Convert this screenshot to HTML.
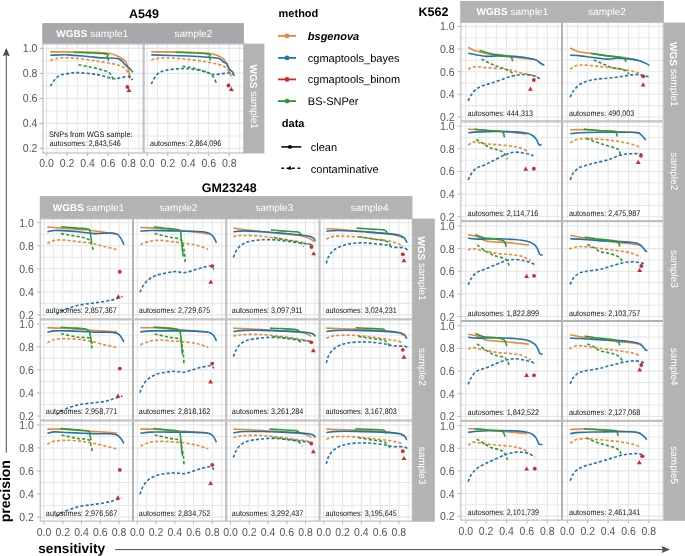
<!DOCTYPE html><html><head><meta charset="utf-8"><style>html,body{margin:0;padding:0;background:#fff;overflow:hidden}svg{display:block;will-change:transform}</style></head><body><svg width="685" height="556" viewBox="0 0 685 556" font-family='"Liberation Sans", sans-serif' text-rendering="geometricPrecision">
<rect width="685" height="556" fill="#fff"/>
<text x="144.0" y="14.4" font-size="12.5" font-weight="bold" text-anchor="middle" dominant-baseline="central" fill="#000">A549</text>
<rect x="42.40" y="43.50" width="101.20" height="110.00" fill="#fff"/>
<line x1="56.85" y1="43.50" x2="56.85" y2="153.50" stroke="#e8e8e8" stroke-width="1.05"/>
<line x1="77.35" y1="43.50" x2="77.35" y2="153.50" stroke="#e8e8e8" stroke-width="1.05"/>
<line x1="97.85" y1="43.50" x2="97.85" y2="153.50" stroke="#e8e8e8" stroke-width="1.05"/>
<line x1="118.35" y1="43.50" x2="118.35" y2="153.50" stroke="#e8e8e8" stroke-width="1.05"/>
<line x1="138.85" y1="43.50" x2="138.85" y2="153.50" stroke="#e8e8e8" stroke-width="1.05"/>
<line x1="42.40" y1="135.90" x2="143.60" y2="135.90" stroke="#e8e8e8" stroke-width="1.05"/>
<line x1="42.40" y1="110.90" x2="143.60" y2="110.90" stroke="#e8e8e8" stroke-width="1.05"/>
<line x1="42.40" y1="85.90" x2="143.60" y2="85.90" stroke="#e8e8e8" stroke-width="1.05"/>
<line x1="42.40" y1="60.90" x2="143.60" y2="60.90" stroke="#e8e8e8" stroke-width="1.05"/>
<line x1="46.60" y1="43.50" x2="46.60" y2="153.50" stroke="#e5e5e5" stroke-width="1.1"/>
<line x1="67.10" y1="43.50" x2="67.10" y2="153.50" stroke="#e5e5e5" stroke-width="1.1"/>
<line x1="87.60" y1="43.50" x2="87.60" y2="153.50" stroke="#e5e5e5" stroke-width="1.1"/>
<line x1="108.10" y1="43.50" x2="108.10" y2="153.50" stroke="#e5e5e5" stroke-width="1.1"/>
<line x1="128.60" y1="43.50" x2="128.60" y2="153.50" stroke="#e5e5e5" stroke-width="1.1"/>
<line x1="42.40" y1="148.40" x2="143.60" y2="148.40" stroke="#e5e5e5" stroke-width="1.1"/>
<line x1="42.40" y1="123.40" x2="143.60" y2="123.40" stroke="#e5e5e5" stroke-width="1.1"/>
<line x1="42.40" y1="98.40" x2="143.60" y2="98.40" stroke="#e5e5e5" stroke-width="1.1"/>
<line x1="42.40" y1="73.40" x2="143.60" y2="73.40" stroke="#e5e5e5" stroke-width="1.1"/>
<line x1="42.40" y1="48.40" x2="143.60" y2="48.40" stroke="#e5e5e5" stroke-width="1.1"/>
<rect x="143.60" y="43.50" width="101.20" height="110.00" fill="#fff"/>
<line x1="157.45" y1="43.50" x2="157.45" y2="153.50" stroke="#e8e8e8" stroke-width="1.05"/>
<line x1="177.95" y1="43.50" x2="177.95" y2="153.50" stroke="#e8e8e8" stroke-width="1.05"/>
<line x1="198.45" y1="43.50" x2="198.45" y2="153.50" stroke="#e8e8e8" stroke-width="1.05"/>
<line x1="218.95" y1="43.50" x2="218.95" y2="153.50" stroke="#e8e8e8" stroke-width="1.05"/>
<line x1="239.45" y1="43.50" x2="239.45" y2="153.50" stroke="#e8e8e8" stroke-width="1.05"/>
<line x1="143.60" y1="135.90" x2="244.80" y2="135.90" stroke="#e8e8e8" stroke-width="1.05"/>
<line x1="143.60" y1="110.90" x2="244.80" y2="110.90" stroke="#e8e8e8" stroke-width="1.05"/>
<line x1="143.60" y1="85.90" x2="244.80" y2="85.90" stroke="#e8e8e8" stroke-width="1.05"/>
<line x1="143.60" y1="60.90" x2="244.80" y2="60.90" stroke="#e8e8e8" stroke-width="1.05"/>
<line x1="147.20" y1="43.50" x2="147.20" y2="153.50" stroke="#e5e5e5" stroke-width="1.1"/>
<line x1="167.70" y1="43.50" x2="167.70" y2="153.50" stroke="#e5e5e5" stroke-width="1.1"/>
<line x1="188.20" y1="43.50" x2="188.20" y2="153.50" stroke="#e5e5e5" stroke-width="1.1"/>
<line x1="208.70" y1="43.50" x2="208.70" y2="153.50" stroke="#e5e5e5" stroke-width="1.1"/>
<line x1="229.20" y1="43.50" x2="229.20" y2="153.50" stroke="#e5e5e5" stroke-width="1.1"/>
<line x1="143.60" y1="148.40" x2="244.80" y2="148.40" stroke="#e5e5e5" stroke-width="1.1"/>
<line x1="143.60" y1="123.40" x2="244.80" y2="123.40" stroke="#e5e5e5" stroke-width="1.1"/>
<line x1="143.60" y1="98.40" x2="244.80" y2="98.40" stroke="#e5e5e5" stroke-width="1.1"/>
<line x1="143.60" y1="73.40" x2="244.80" y2="73.40" stroke="#e5e5e5" stroke-width="1.1"/>
<line x1="143.60" y1="48.40" x2="244.80" y2="48.40" stroke="#e5e5e5" stroke-width="1.1"/>
<rect x="42.90" y="44.00" width="100.20" height="109.00" fill="none" stroke="#b3b3b3" stroke-width="1"/>
<rect x="144.10" y="44.00" width="100.20" height="109.00" fill="none" stroke="#b3b3b3" stroke-width="1"/>
<line x1="39.70" y1="148.40" x2="42.40" y2="148.40" stroke="#b3b3b3" stroke-width="1"/>
<text transform="translate(37.40,148.90) scale(0.905,1)" font-size="11.6" fill="#555555" text-anchor="end" dominant-baseline="central">0.2</text>
<line x1="39.70" y1="123.40" x2="42.40" y2="123.40" stroke="#b3b3b3" stroke-width="1"/>
<text transform="translate(37.40,123.90) scale(0.905,1)" font-size="11.6" fill="#555555" text-anchor="end" dominant-baseline="central">0.4</text>
<line x1="39.70" y1="98.40" x2="42.40" y2="98.40" stroke="#b3b3b3" stroke-width="1"/>
<text transform="translate(37.40,98.90) scale(0.905,1)" font-size="11.6" fill="#555555" text-anchor="end" dominant-baseline="central">0.6</text>
<line x1="39.70" y1="73.40" x2="42.40" y2="73.40" stroke="#b3b3b3" stroke-width="1"/>
<text transform="translate(37.40,73.90) scale(0.905,1)" font-size="11.6" fill="#555555" text-anchor="end" dominant-baseline="central">0.8</text>
<line x1="39.70" y1="48.40" x2="42.40" y2="48.40" stroke="#b3b3b3" stroke-width="1"/>
<text transform="translate(37.40,48.90) scale(0.905,1)" font-size="11.6" fill="#555555" text-anchor="end" dominant-baseline="central">1.0</text>
<line x1="46.60" y1="153.50" x2="46.60" y2="156.20" stroke="#b3b3b3" stroke-width="1"/>
<text transform="translate(46.60,163.00) scale(0.905,1)" font-size="11.6" fill="#555555" text-anchor="middle" dominant-baseline="central">0.0</text>
<line x1="67.10" y1="153.50" x2="67.10" y2="156.20" stroke="#b3b3b3" stroke-width="1"/>
<text transform="translate(67.10,163.00) scale(0.905,1)" font-size="11.6" fill="#555555" text-anchor="middle" dominant-baseline="central">0.2</text>
<line x1="87.60" y1="153.50" x2="87.60" y2="156.20" stroke="#b3b3b3" stroke-width="1"/>
<text transform="translate(87.60,163.00) scale(0.905,1)" font-size="11.6" fill="#555555" text-anchor="middle" dominant-baseline="central">0.4</text>
<line x1="108.10" y1="153.50" x2="108.10" y2="156.20" stroke="#b3b3b3" stroke-width="1"/>
<text transform="translate(108.10,163.00) scale(0.905,1)" font-size="11.6" fill="#555555" text-anchor="middle" dominant-baseline="central">0.6</text>
<line x1="128.60" y1="153.50" x2="128.60" y2="156.20" stroke="#b3b3b3" stroke-width="1"/>
<text transform="translate(128.60,163.00) scale(0.905,1)" font-size="11.6" fill="#555555" text-anchor="middle" dominant-baseline="central">0.8</text>
<line x1="147.20" y1="153.50" x2="147.20" y2="156.20" stroke="#b3b3b3" stroke-width="1"/>
<text transform="translate(147.20,163.00) scale(0.905,1)" font-size="11.6" fill="#555555" text-anchor="middle" dominant-baseline="central">0.0</text>
<line x1="167.70" y1="153.50" x2="167.70" y2="156.20" stroke="#b3b3b3" stroke-width="1"/>
<text transform="translate(167.70,163.00) scale(0.905,1)" font-size="11.6" fill="#555555" text-anchor="middle" dominant-baseline="central">0.2</text>
<line x1="188.20" y1="153.50" x2="188.20" y2="156.20" stroke="#b3b3b3" stroke-width="1"/>
<text transform="translate(188.20,163.00) scale(0.905,1)" font-size="11.6" fill="#555555" text-anchor="middle" dominant-baseline="central">0.4</text>
<line x1="208.70" y1="153.50" x2="208.70" y2="156.20" stroke="#b3b3b3" stroke-width="1"/>
<text transform="translate(208.70,163.00) scale(0.905,1)" font-size="11.6" fill="#555555" text-anchor="middle" dominant-baseline="central">0.6</text>
<line x1="229.20" y1="153.50" x2="229.20" y2="156.20" stroke="#b3b3b3" stroke-width="1"/>
<text transform="translate(229.20,163.00) scale(0.905,1)" font-size="11.6" fill="#555555" text-anchor="middle" dominant-baseline="central">0.8</text>
<rect x="42.2" y="23.1" width="201.70" height="20.60" fill="#a7a8ac"/>
<text x="92.20" y="34.25" font-size="10" fill="#fff" text-anchor="middle" dominant-baseline="central"><tspan font-weight="bold">WGBS</tspan> sample1</text>
<text x="193.40" y="34.25" font-size="10" fill="#fff" text-anchor="middle" dominant-baseline="central">sample2</text>
<rect x="243.3" y="43.6" width="21.10" height="109.90" fill="#b3b3b3"/>
<text transform="translate(253.45,96.70) rotate(90)" font-size="10" fill="#fff" text-anchor="middle" dominant-baseline="central"><tspan font-weight="bold">WGS</tspan> sample1</text>
<text x="433.4" y="12.3" font-size="12.5" font-weight="bold" text-anchor="middle" dominant-baseline="central" fill="#000">K562</text>
<rect x="460.40" y="21.60" width="101.60" height="99.80" fill="#fff"/>
<line x1="475.90" y1="21.60" x2="475.90" y2="121.40" stroke="#e8e8e8" stroke-width="1.05"/>
<line x1="496.30" y1="21.60" x2="496.30" y2="121.40" stroke="#e8e8e8" stroke-width="1.05"/>
<line x1="516.70" y1="21.60" x2="516.70" y2="121.40" stroke="#e8e8e8" stroke-width="1.05"/>
<line x1="537.10" y1="21.60" x2="537.10" y2="121.40" stroke="#e8e8e8" stroke-width="1.05"/>
<line x1="557.50" y1="21.60" x2="557.50" y2="121.40" stroke="#e8e8e8" stroke-width="1.05"/>
<line x1="460.40" y1="105.64" x2="562.00" y2="105.64" stroke="#e8e8e8" stroke-width="1.05"/>
<line x1="460.40" y1="83.00" x2="562.00" y2="83.00" stroke="#e8e8e8" stroke-width="1.05"/>
<line x1="460.40" y1="60.36" x2="562.00" y2="60.36" stroke="#e8e8e8" stroke-width="1.05"/>
<line x1="460.40" y1="37.72" x2="562.00" y2="37.72" stroke="#e8e8e8" stroke-width="1.05"/>
<line x1="465.70" y1="21.60" x2="465.70" y2="121.40" stroke="#e5e5e5" stroke-width="1.1"/>
<line x1="486.10" y1="21.60" x2="486.10" y2="121.40" stroke="#e5e5e5" stroke-width="1.1"/>
<line x1="506.50" y1="21.60" x2="506.50" y2="121.40" stroke="#e5e5e5" stroke-width="1.1"/>
<line x1="526.90" y1="21.60" x2="526.90" y2="121.40" stroke="#e5e5e5" stroke-width="1.1"/>
<line x1="547.30" y1="21.60" x2="547.30" y2="121.40" stroke="#e5e5e5" stroke-width="1.1"/>
<line x1="460.40" y1="116.96" x2="562.00" y2="116.96" stroke="#e5e5e5" stroke-width="1.1"/>
<line x1="460.40" y1="94.32" x2="562.00" y2="94.32" stroke="#e5e5e5" stroke-width="1.1"/>
<line x1="460.40" y1="71.68" x2="562.00" y2="71.68" stroke="#e5e5e5" stroke-width="1.1"/>
<line x1="460.40" y1="49.04" x2="562.00" y2="49.04" stroke="#e5e5e5" stroke-width="1.1"/>
<line x1="460.40" y1="26.40" x2="562.00" y2="26.40" stroke="#e5e5e5" stroke-width="1.1"/>
<rect x="562.00" y="21.60" width="101.60" height="99.80" fill="#fff"/>
<line x1="577.50" y1="21.60" x2="577.50" y2="121.40" stroke="#e8e8e8" stroke-width="1.05"/>
<line x1="597.90" y1="21.60" x2="597.90" y2="121.40" stroke="#e8e8e8" stroke-width="1.05"/>
<line x1="618.30" y1="21.60" x2="618.30" y2="121.40" stroke="#e8e8e8" stroke-width="1.05"/>
<line x1="638.70" y1="21.60" x2="638.70" y2="121.40" stroke="#e8e8e8" stroke-width="1.05"/>
<line x1="659.10" y1="21.60" x2="659.10" y2="121.40" stroke="#e8e8e8" stroke-width="1.05"/>
<line x1="562.00" y1="105.64" x2="663.60" y2="105.64" stroke="#e8e8e8" stroke-width="1.05"/>
<line x1="562.00" y1="83.00" x2="663.60" y2="83.00" stroke="#e8e8e8" stroke-width="1.05"/>
<line x1="562.00" y1="60.36" x2="663.60" y2="60.36" stroke="#e8e8e8" stroke-width="1.05"/>
<line x1="562.00" y1="37.72" x2="663.60" y2="37.72" stroke="#e8e8e8" stroke-width="1.05"/>
<line x1="567.30" y1="21.60" x2="567.30" y2="121.40" stroke="#e5e5e5" stroke-width="1.1"/>
<line x1="587.70" y1="21.60" x2="587.70" y2="121.40" stroke="#e5e5e5" stroke-width="1.1"/>
<line x1="608.10" y1="21.60" x2="608.10" y2="121.40" stroke="#e5e5e5" stroke-width="1.1"/>
<line x1="628.50" y1="21.60" x2="628.50" y2="121.40" stroke="#e5e5e5" stroke-width="1.1"/>
<line x1="648.90" y1="21.60" x2="648.90" y2="121.40" stroke="#e5e5e5" stroke-width="1.1"/>
<line x1="562.00" y1="116.96" x2="663.60" y2="116.96" stroke="#e5e5e5" stroke-width="1.1"/>
<line x1="562.00" y1="94.32" x2="663.60" y2="94.32" stroke="#e5e5e5" stroke-width="1.1"/>
<line x1="562.00" y1="71.68" x2="663.60" y2="71.68" stroke="#e5e5e5" stroke-width="1.1"/>
<line x1="562.00" y1="49.04" x2="663.60" y2="49.04" stroke="#e5e5e5" stroke-width="1.1"/>
<line x1="562.00" y1="26.40" x2="663.60" y2="26.40" stroke="#e5e5e5" stroke-width="1.1"/>
<rect x="460.40" y="121.40" width="101.60" height="99.80" fill="#fff"/>
<line x1="475.90" y1="121.40" x2="475.90" y2="221.20" stroke="#e8e8e8" stroke-width="1.05"/>
<line x1="496.30" y1="121.40" x2="496.30" y2="221.20" stroke="#e8e8e8" stroke-width="1.05"/>
<line x1="516.70" y1="121.40" x2="516.70" y2="221.20" stroke="#e8e8e8" stroke-width="1.05"/>
<line x1="537.10" y1="121.40" x2="537.10" y2="221.20" stroke="#e8e8e8" stroke-width="1.05"/>
<line x1="557.50" y1="121.40" x2="557.50" y2="221.20" stroke="#e8e8e8" stroke-width="1.05"/>
<line x1="460.40" y1="205.44" x2="562.00" y2="205.44" stroke="#e8e8e8" stroke-width="1.05"/>
<line x1="460.40" y1="182.80" x2="562.00" y2="182.80" stroke="#e8e8e8" stroke-width="1.05"/>
<line x1="460.40" y1="160.16" x2="562.00" y2="160.16" stroke="#e8e8e8" stroke-width="1.05"/>
<line x1="460.40" y1="137.52" x2="562.00" y2="137.52" stroke="#e8e8e8" stroke-width="1.05"/>
<line x1="465.70" y1="121.40" x2="465.70" y2="221.20" stroke="#e5e5e5" stroke-width="1.1"/>
<line x1="486.10" y1="121.40" x2="486.10" y2="221.20" stroke="#e5e5e5" stroke-width="1.1"/>
<line x1="506.50" y1="121.40" x2="506.50" y2="221.20" stroke="#e5e5e5" stroke-width="1.1"/>
<line x1="526.90" y1="121.40" x2="526.90" y2="221.20" stroke="#e5e5e5" stroke-width="1.1"/>
<line x1="547.30" y1="121.40" x2="547.30" y2="221.20" stroke="#e5e5e5" stroke-width="1.1"/>
<line x1="460.40" y1="216.76" x2="562.00" y2="216.76" stroke="#e5e5e5" stroke-width="1.1"/>
<line x1="460.40" y1="194.12" x2="562.00" y2="194.12" stroke="#e5e5e5" stroke-width="1.1"/>
<line x1="460.40" y1="171.48" x2="562.00" y2="171.48" stroke="#e5e5e5" stroke-width="1.1"/>
<line x1="460.40" y1="148.84" x2="562.00" y2="148.84" stroke="#e5e5e5" stroke-width="1.1"/>
<line x1="460.40" y1="126.20" x2="562.00" y2="126.20" stroke="#e5e5e5" stroke-width="1.1"/>
<rect x="562.00" y="121.40" width="101.60" height="99.80" fill="#fff"/>
<line x1="577.50" y1="121.40" x2="577.50" y2="221.20" stroke="#e8e8e8" stroke-width="1.05"/>
<line x1="597.90" y1="121.40" x2="597.90" y2="221.20" stroke="#e8e8e8" stroke-width="1.05"/>
<line x1="618.30" y1="121.40" x2="618.30" y2="221.20" stroke="#e8e8e8" stroke-width="1.05"/>
<line x1="638.70" y1="121.40" x2="638.70" y2="221.20" stroke="#e8e8e8" stroke-width="1.05"/>
<line x1="659.10" y1="121.40" x2="659.10" y2="221.20" stroke="#e8e8e8" stroke-width="1.05"/>
<line x1="562.00" y1="205.44" x2="663.60" y2="205.44" stroke="#e8e8e8" stroke-width="1.05"/>
<line x1="562.00" y1="182.80" x2="663.60" y2="182.80" stroke="#e8e8e8" stroke-width="1.05"/>
<line x1="562.00" y1="160.16" x2="663.60" y2="160.16" stroke="#e8e8e8" stroke-width="1.05"/>
<line x1="562.00" y1="137.52" x2="663.60" y2="137.52" stroke="#e8e8e8" stroke-width="1.05"/>
<line x1="567.30" y1="121.40" x2="567.30" y2="221.20" stroke="#e5e5e5" stroke-width="1.1"/>
<line x1="587.70" y1="121.40" x2="587.70" y2="221.20" stroke="#e5e5e5" stroke-width="1.1"/>
<line x1="608.10" y1="121.40" x2="608.10" y2="221.20" stroke="#e5e5e5" stroke-width="1.1"/>
<line x1="628.50" y1="121.40" x2="628.50" y2="221.20" stroke="#e5e5e5" stroke-width="1.1"/>
<line x1="648.90" y1="121.40" x2="648.90" y2="221.20" stroke="#e5e5e5" stroke-width="1.1"/>
<line x1="562.00" y1="216.76" x2="663.60" y2="216.76" stroke="#e5e5e5" stroke-width="1.1"/>
<line x1="562.00" y1="194.12" x2="663.60" y2="194.12" stroke="#e5e5e5" stroke-width="1.1"/>
<line x1="562.00" y1="171.48" x2="663.60" y2="171.48" stroke="#e5e5e5" stroke-width="1.1"/>
<line x1="562.00" y1="148.84" x2="663.60" y2="148.84" stroke="#e5e5e5" stroke-width="1.1"/>
<line x1="562.00" y1="126.20" x2="663.60" y2="126.20" stroke="#e5e5e5" stroke-width="1.1"/>
<rect x="460.40" y="221.20" width="101.60" height="99.80" fill="#fff"/>
<line x1="475.90" y1="221.20" x2="475.90" y2="321.00" stroke="#e8e8e8" stroke-width="1.05"/>
<line x1="496.30" y1="221.20" x2="496.30" y2="321.00" stroke="#e8e8e8" stroke-width="1.05"/>
<line x1="516.70" y1="221.20" x2="516.70" y2="321.00" stroke="#e8e8e8" stroke-width="1.05"/>
<line x1="537.10" y1="221.20" x2="537.10" y2="321.00" stroke="#e8e8e8" stroke-width="1.05"/>
<line x1="557.50" y1="221.20" x2="557.50" y2="321.00" stroke="#e8e8e8" stroke-width="1.05"/>
<line x1="460.40" y1="305.24" x2="562.00" y2="305.24" stroke="#e8e8e8" stroke-width="1.05"/>
<line x1="460.40" y1="282.60" x2="562.00" y2="282.60" stroke="#e8e8e8" stroke-width="1.05"/>
<line x1="460.40" y1="259.96" x2="562.00" y2="259.96" stroke="#e8e8e8" stroke-width="1.05"/>
<line x1="460.40" y1="237.32" x2="562.00" y2="237.32" stroke="#e8e8e8" stroke-width="1.05"/>
<line x1="465.70" y1="221.20" x2="465.70" y2="321.00" stroke="#e5e5e5" stroke-width="1.1"/>
<line x1="486.10" y1="221.20" x2="486.10" y2="321.00" stroke="#e5e5e5" stroke-width="1.1"/>
<line x1="506.50" y1="221.20" x2="506.50" y2="321.00" stroke="#e5e5e5" stroke-width="1.1"/>
<line x1="526.90" y1="221.20" x2="526.90" y2="321.00" stroke="#e5e5e5" stroke-width="1.1"/>
<line x1="547.30" y1="221.20" x2="547.30" y2="321.00" stroke="#e5e5e5" stroke-width="1.1"/>
<line x1="460.40" y1="316.56" x2="562.00" y2="316.56" stroke="#e5e5e5" stroke-width="1.1"/>
<line x1="460.40" y1="293.92" x2="562.00" y2="293.92" stroke="#e5e5e5" stroke-width="1.1"/>
<line x1="460.40" y1="271.28" x2="562.00" y2="271.28" stroke="#e5e5e5" stroke-width="1.1"/>
<line x1="460.40" y1="248.64" x2="562.00" y2="248.64" stroke="#e5e5e5" stroke-width="1.1"/>
<line x1="460.40" y1="226.00" x2="562.00" y2="226.00" stroke="#e5e5e5" stroke-width="1.1"/>
<rect x="562.00" y="221.20" width="101.60" height="99.80" fill="#fff"/>
<line x1="577.50" y1="221.20" x2="577.50" y2="321.00" stroke="#e8e8e8" stroke-width="1.05"/>
<line x1="597.90" y1="221.20" x2="597.90" y2="321.00" stroke="#e8e8e8" stroke-width="1.05"/>
<line x1="618.30" y1="221.20" x2="618.30" y2="321.00" stroke="#e8e8e8" stroke-width="1.05"/>
<line x1="638.70" y1="221.20" x2="638.70" y2="321.00" stroke="#e8e8e8" stroke-width="1.05"/>
<line x1="659.10" y1="221.20" x2="659.10" y2="321.00" stroke="#e8e8e8" stroke-width="1.05"/>
<line x1="562.00" y1="305.24" x2="663.60" y2="305.24" stroke="#e8e8e8" stroke-width="1.05"/>
<line x1="562.00" y1="282.60" x2="663.60" y2="282.60" stroke="#e8e8e8" stroke-width="1.05"/>
<line x1="562.00" y1="259.96" x2="663.60" y2="259.96" stroke="#e8e8e8" stroke-width="1.05"/>
<line x1="562.00" y1="237.32" x2="663.60" y2="237.32" stroke="#e8e8e8" stroke-width="1.05"/>
<line x1="567.30" y1="221.20" x2="567.30" y2="321.00" stroke="#e5e5e5" stroke-width="1.1"/>
<line x1="587.70" y1="221.20" x2="587.70" y2="321.00" stroke="#e5e5e5" stroke-width="1.1"/>
<line x1="608.10" y1="221.20" x2="608.10" y2="321.00" stroke="#e5e5e5" stroke-width="1.1"/>
<line x1="628.50" y1="221.20" x2="628.50" y2="321.00" stroke="#e5e5e5" stroke-width="1.1"/>
<line x1="648.90" y1="221.20" x2="648.90" y2="321.00" stroke="#e5e5e5" stroke-width="1.1"/>
<line x1="562.00" y1="316.56" x2="663.60" y2="316.56" stroke="#e5e5e5" stroke-width="1.1"/>
<line x1="562.00" y1="293.92" x2="663.60" y2="293.92" stroke="#e5e5e5" stroke-width="1.1"/>
<line x1="562.00" y1="271.28" x2="663.60" y2="271.28" stroke="#e5e5e5" stroke-width="1.1"/>
<line x1="562.00" y1="248.64" x2="663.60" y2="248.64" stroke="#e5e5e5" stroke-width="1.1"/>
<line x1="562.00" y1="226.00" x2="663.60" y2="226.00" stroke="#e5e5e5" stroke-width="1.1"/>
<rect x="460.40" y="321.00" width="101.60" height="99.80" fill="#fff"/>
<line x1="475.90" y1="321.00" x2="475.90" y2="420.80" stroke="#e8e8e8" stroke-width="1.05"/>
<line x1="496.30" y1="321.00" x2="496.30" y2="420.80" stroke="#e8e8e8" stroke-width="1.05"/>
<line x1="516.70" y1="321.00" x2="516.70" y2="420.80" stroke="#e8e8e8" stroke-width="1.05"/>
<line x1="537.10" y1="321.00" x2="537.10" y2="420.80" stroke="#e8e8e8" stroke-width="1.05"/>
<line x1="557.50" y1="321.00" x2="557.50" y2="420.80" stroke="#e8e8e8" stroke-width="1.05"/>
<line x1="460.40" y1="405.04" x2="562.00" y2="405.04" stroke="#e8e8e8" stroke-width="1.05"/>
<line x1="460.40" y1="382.40" x2="562.00" y2="382.40" stroke="#e8e8e8" stroke-width="1.05"/>
<line x1="460.40" y1="359.76" x2="562.00" y2="359.76" stroke="#e8e8e8" stroke-width="1.05"/>
<line x1="460.40" y1="337.12" x2="562.00" y2="337.12" stroke="#e8e8e8" stroke-width="1.05"/>
<line x1="465.70" y1="321.00" x2="465.70" y2="420.80" stroke="#e5e5e5" stroke-width="1.1"/>
<line x1="486.10" y1="321.00" x2="486.10" y2="420.80" stroke="#e5e5e5" stroke-width="1.1"/>
<line x1="506.50" y1="321.00" x2="506.50" y2="420.80" stroke="#e5e5e5" stroke-width="1.1"/>
<line x1="526.90" y1="321.00" x2="526.90" y2="420.80" stroke="#e5e5e5" stroke-width="1.1"/>
<line x1="547.30" y1="321.00" x2="547.30" y2="420.80" stroke="#e5e5e5" stroke-width="1.1"/>
<line x1="460.40" y1="416.36" x2="562.00" y2="416.36" stroke="#e5e5e5" stroke-width="1.1"/>
<line x1="460.40" y1="393.72" x2="562.00" y2="393.72" stroke="#e5e5e5" stroke-width="1.1"/>
<line x1="460.40" y1="371.08" x2="562.00" y2="371.08" stroke="#e5e5e5" stroke-width="1.1"/>
<line x1="460.40" y1="348.44" x2="562.00" y2="348.44" stroke="#e5e5e5" stroke-width="1.1"/>
<line x1="460.40" y1="325.80" x2="562.00" y2="325.80" stroke="#e5e5e5" stroke-width="1.1"/>
<rect x="562.00" y="321.00" width="101.60" height="99.80" fill="#fff"/>
<line x1="577.50" y1="321.00" x2="577.50" y2="420.80" stroke="#e8e8e8" stroke-width="1.05"/>
<line x1="597.90" y1="321.00" x2="597.90" y2="420.80" stroke="#e8e8e8" stroke-width="1.05"/>
<line x1="618.30" y1="321.00" x2="618.30" y2="420.80" stroke="#e8e8e8" stroke-width="1.05"/>
<line x1="638.70" y1="321.00" x2="638.70" y2="420.80" stroke="#e8e8e8" stroke-width="1.05"/>
<line x1="659.10" y1="321.00" x2="659.10" y2="420.80" stroke="#e8e8e8" stroke-width="1.05"/>
<line x1="562.00" y1="405.04" x2="663.60" y2="405.04" stroke="#e8e8e8" stroke-width="1.05"/>
<line x1="562.00" y1="382.40" x2="663.60" y2="382.40" stroke="#e8e8e8" stroke-width="1.05"/>
<line x1="562.00" y1="359.76" x2="663.60" y2="359.76" stroke="#e8e8e8" stroke-width="1.05"/>
<line x1="562.00" y1="337.12" x2="663.60" y2="337.12" stroke="#e8e8e8" stroke-width="1.05"/>
<line x1="567.30" y1="321.00" x2="567.30" y2="420.80" stroke="#e5e5e5" stroke-width="1.1"/>
<line x1="587.70" y1="321.00" x2="587.70" y2="420.80" stroke="#e5e5e5" stroke-width="1.1"/>
<line x1="608.10" y1="321.00" x2="608.10" y2="420.80" stroke="#e5e5e5" stroke-width="1.1"/>
<line x1="628.50" y1="321.00" x2="628.50" y2="420.80" stroke="#e5e5e5" stroke-width="1.1"/>
<line x1="648.90" y1="321.00" x2="648.90" y2="420.80" stroke="#e5e5e5" stroke-width="1.1"/>
<line x1="562.00" y1="416.36" x2="663.60" y2="416.36" stroke="#e5e5e5" stroke-width="1.1"/>
<line x1="562.00" y1="393.72" x2="663.60" y2="393.72" stroke="#e5e5e5" stroke-width="1.1"/>
<line x1="562.00" y1="371.08" x2="663.60" y2="371.08" stroke="#e5e5e5" stroke-width="1.1"/>
<line x1="562.00" y1="348.44" x2="663.60" y2="348.44" stroke="#e5e5e5" stroke-width="1.1"/>
<line x1="562.00" y1="325.80" x2="663.60" y2="325.80" stroke="#e5e5e5" stroke-width="1.1"/>
<rect x="460.40" y="420.80" width="101.60" height="99.80" fill="#fff"/>
<line x1="475.90" y1="420.80" x2="475.90" y2="520.60" stroke="#e8e8e8" stroke-width="1.05"/>
<line x1="496.30" y1="420.80" x2="496.30" y2="520.60" stroke="#e8e8e8" stroke-width="1.05"/>
<line x1="516.70" y1="420.80" x2="516.70" y2="520.60" stroke="#e8e8e8" stroke-width="1.05"/>
<line x1="537.10" y1="420.80" x2="537.10" y2="520.60" stroke="#e8e8e8" stroke-width="1.05"/>
<line x1="557.50" y1="420.80" x2="557.50" y2="520.60" stroke="#e8e8e8" stroke-width="1.05"/>
<line x1="460.40" y1="504.84" x2="562.00" y2="504.84" stroke="#e8e8e8" stroke-width="1.05"/>
<line x1="460.40" y1="482.20" x2="562.00" y2="482.20" stroke="#e8e8e8" stroke-width="1.05"/>
<line x1="460.40" y1="459.56" x2="562.00" y2="459.56" stroke="#e8e8e8" stroke-width="1.05"/>
<line x1="460.40" y1="436.92" x2="562.00" y2="436.92" stroke="#e8e8e8" stroke-width="1.05"/>
<line x1="465.70" y1="420.80" x2="465.70" y2="520.60" stroke="#e5e5e5" stroke-width="1.1"/>
<line x1="486.10" y1="420.80" x2="486.10" y2="520.60" stroke="#e5e5e5" stroke-width="1.1"/>
<line x1="506.50" y1="420.80" x2="506.50" y2="520.60" stroke="#e5e5e5" stroke-width="1.1"/>
<line x1="526.90" y1="420.80" x2="526.90" y2="520.60" stroke="#e5e5e5" stroke-width="1.1"/>
<line x1="547.30" y1="420.80" x2="547.30" y2="520.60" stroke="#e5e5e5" stroke-width="1.1"/>
<line x1="460.40" y1="516.16" x2="562.00" y2="516.16" stroke="#e5e5e5" stroke-width="1.1"/>
<line x1="460.40" y1="493.52" x2="562.00" y2="493.52" stroke="#e5e5e5" stroke-width="1.1"/>
<line x1="460.40" y1="470.88" x2="562.00" y2="470.88" stroke="#e5e5e5" stroke-width="1.1"/>
<line x1="460.40" y1="448.24" x2="562.00" y2="448.24" stroke="#e5e5e5" stroke-width="1.1"/>
<line x1="460.40" y1="425.60" x2="562.00" y2="425.60" stroke="#e5e5e5" stroke-width="1.1"/>
<rect x="562.00" y="420.80" width="101.60" height="99.80" fill="#fff"/>
<line x1="577.50" y1="420.80" x2="577.50" y2="520.60" stroke="#e8e8e8" stroke-width="1.05"/>
<line x1="597.90" y1="420.80" x2="597.90" y2="520.60" stroke="#e8e8e8" stroke-width="1.05"/>
<line x1="618.30" y1="420.80" x2="618.30" y2="520.60" stroke="#e8e8e8" stroke-width="1.05"/>
<line x1="638.70" y1="420.80" x2="638.70" y2="520.60" stroke="#e8e8e8" stroke-width="1.05"/>
<line x1="659.10" y1="420.80" x2="659.10" y2="520.60" stroke="#e8e8e8" stroke-width="1.05"/>
<line x1="562.00" y1="504.84" x2="663.60" y2="504.84" stroke="#e8e8e8" stroke-width="1.05"/>
<line x1="562.00" y1="482.20" x2="663.60" y2="482.20" stroke="#e8e8e8" stroke-width="1.05"/>
<line x1="562.00" y1="459.56" x2="663.60" y2="459.56" stroke="#e8e8e8" stroke-width="1.05"/>
<line x1="562.00" y1="436.92" x2="663.60" y2="436.92" stroke="#e8e8e8" stroke-width="1.05"/>
<line x1="567.30" y1="420.80" x2="567.30" y2="520.60" stroke="#e5e5e5" stroke-width="1.1"/>
<line x1="587.70" y1="420.80" x2="587.70" y2="520.60" stroke="#e5e5e5" stroke-width="1.1"/>
<line x1="608.10" y1="420.80" x2="608.10" y2="520.60" stroke="#e5e5e5" stroke-width="1.1"/>
<line x1="628.50" y1="420.80" x2="628.50" y2="520.60" stroke="#e5e5e5" stroke-width="1.1"/>
<line x1="648.90" y1="420.80" x2="648.90" y2="520.60" stroke="#e5e5e5" stroke-width="1.1"/>
<line x1="562.00" y1="516.16" x2="663.60" y2="516.16" stroke="#e5e5e5" stroke-width="1.1"/>
<line x1="562.00" y1="493.52" x2="663.60" y2="493.52" stroke="#e5e5e5" stroke-width="1.1"/>
<line x1="562.00" y1="470.88" x2="663.60" y2="470.88" stroke="#e5e5e5" stroke-width="1.1"/>
<line x1="562.00" y1="448.24" x2="663.60" y2="448.24" stroke="#e5e5e5" stroke-width="1.1"/>
<line x1="562.00" y1="425.60" x2="663.60" y2="425.60" stroke="#e5e5e5" stroke-width="1.1"/>
<rect x="460.90" y="22.10" width="100.60" height="98.80" fill="none" stroke="#b3b3b3" stroke-width="1"/>
<rect x="562.50" y="22.10" width="100.60" height="98.80" fill="none" stroke="#b3b3b3" stroke-width="1"/>
<rect x="460.90" y="121.90" width="100.60" height="98.80" fill="none" stroke="#b3b3b3" stroke-width="1"/>
<rect x="562.50" y="121.90" width="100.60" height="98.80" fill="none" stroke="#b3b3b3" stroke-width="1"/>
<rect x="460.90" y="221.70" width="100.60" height="98.80" fill="none" stroke="#b3b3b3" stroke-width="1"/>
<rect x="562.50" y="221.70" width="100.60" height="98.80" fill="none" stroke="#b3b3b3" stroke-width="1"/>
<rect x="460.90" y="321.50" width="100.60" height="98.80" fill="none" stroke="#b3b3b3" stroke-width="1"/>
<rect x="562.50" y="321.50" width="100.60" height="98.80" fill="none" stroke="#b3b3b3" stroke-width="1"/>
<rect x="460.90" y="421.30" width="100.60" height="98.80" fill="none" stroke="#b3b3b3" stroke-width="1"/>
<rect x="562.50" y="421.30" width="100.60" height="98.80" fill="none" stroke="#b3b3b3" stroke-width="1"/>
<line x1="457.70" y1="116.96" x2="460.40" y2="116.96" stroke="#b3b3b3" stroke-width="1"/>
<text transform="translate(454.50,117.46) scale(0.905,1)" font-size="11.6" fill="#555555" text-anchor="end" dominant-baseline="central">0.2</text>
<line x1="457.70" y1="94.32" x2="460.40" y2="94.32" stroke="#b3b3b3" stroke-width="1"/>
<text transform="translate(454.50,94.82) scale(0.905,1)" font-size="11.6" fill="#555555" text-anchor="end" dominant-baseline="central">0.4</text>
<line x1="457.70" y1="71.68" x2="460.40" y2="71.68" stroke="#b3b3b3" stroke-width="1"/>
<text transform="translate(454.50,72.18) scale(0.905,1)" font-size="11.6" fill="#555555" text-anchor="end" dominant-baseline="central">0.6</text>
<line x1="457.70" y1="49.04" x2="460.40" y2="49.04" stroke="#b3b3b3" stroke-width="1"/>
<text transform="translate(454.50,49.54) scale(0.905,1)" font-size="11.6" fill="#555555" text-anchor="end" dominant-baseline="central">0.8</text>
<line x1="457.70" y1="26.40" x2="460.40" y2="26.40" stroke="#b3b3b3" stroke-width="1"/>
<text transform="translate(454.50,26.90) scale(0.905,1)" font-size="11.6" fill="#555555" text-anchor="end" dominant-baseline="central">1.0</text>
<line x1="457.70" y1="216.76" x2="460.40" y2="216.76" stroke="#b3b3b3" stroke-width="1"/>
<text transform="translate(454.50,217.26) scale(0.905,1)" font-size="11.6" fill="#555555" text-anchor="end" dominant-baseline="central">0.2</text>
<line x1="457.70" y1="194.12" x2="460.40" y2="194.12" stroke="#b3b3b3" stroke-width="1"/>
<text transform="translate(454.50,194.62) scale(0.905,1)" font-size="11.6" fill="#555555" text-anchor="end" dominant-baseline="central">0.4</text>
<line x1="457.70" y1="171.48" x2="460.40" y2="171.48" stroke="#b3b3b3" stroke-width="1"/>
<text transform="translate(454.50,171.98) scale(0.905,1)" font-size="11.6" fill="#555555" text-anchor="end" dominant-baseline="central">0.6</text>
<line x1="457.70" y1="148.84" x2="460.40" y2="148.84" stroke="#b3b3b3" stroke-width="1"/>
<text transform="translate(454.50,149.34) scale(0.905,1)" font-size="11.6" fill="#555555" text-anchor="end" dominant-baseline="central">0.8</text>
<line x1="457.70" y1="126.20" x2="460.40" y2="126.20" stroke="#b3b3b3" stroke-width="1"/>
<text transform="translate(454.50,126.70) scale(0.905,1)" font-size="11.6" fill="#555555" text-anchor="end" dominant-baseline="central">1.0</text>
<line x1="457.70" y1="316.56" x2="460.40" y2="316.56" stroke="#b3b3b3" stroke-width="1"/>
<text transform="translate(454.50,317.06) scale(0.905,1)" font-size="11.6" fill="#555555" text-anchor="end" dominant-baseline="central">0.2</text>
<line x1="457.70" y1="293.92" x2="460.40" y2="293.92" stroke="#b3b3b3" stroke-width="1"/>
<text transform="translate(454.50,294.42) scale(0.905,1)" font-size="11.6" fill="#555555" text-anchor="end" dominant-baseline="central">0.4</text>
<line x1="457.70" y1="271.28" x2="460.40" y2="271.28" stroke="#b3b3b3" stroke-width="1"/>
<text transform="translate(454.50,271.78) scale(0.905,1)" font-size="11.6" fill="#555555" text-anchor="end" dominant-baseline="central">0.6</text>
<line x1="457.70" y1="248.64" x2="460.40" y2="248.64" stroke="#b3b3b3" stroke-width="1"/>
<text transform="translate(454.50,249.14) scale(0.905,1)" font-size="11.6" fill="#555555" text-anchor="end" dominant-baseline="central">0.8</text>
<line x1="457.70" y1="226.00" x2="460.40" y2="226.00" stroke="#b3b3b3" stroke-width="1"/>
<text transform="translate(454.50,226.50) scale(0.905,1)" font-size="11.6" fill="#555555" text-anchor="end" dominant-baseline="central">1.0</text>
<line x1="457.70" y1="416.36" x2="460.40" y2="416.36" stroke="#b3b3b3" stroke-width="1"/>
<text transform="translate(454.50,416.86) scale(0.905,1)" font-size="11.6" fill="#555555" text-anchor="end" dominant-baseline="central">0.2</text>
<line x1="457.70" y1="393.72" x2="460.40" y2="393.72" stroke="#b3b3b3" stroke-width="1"/>
<text transform="translate(454.50,394.22) scale(0.905,1)" font-size="11.6" fill="#555555" text-anchor="end" dominant-baseline="central">0.4</text>
<line x1="457.70" y1="371.08" x2="460.40" y2="371.08" stroke="#b3b3b3" stroke-width="1"/>
<text transform="translate(454.50,371.58) scale(0.905,1)" font-size="11.6" fill="#555555" text-anchor="end" dominant-baseline="central">0.6</text>
<line x1="457.70" y1="348.44" x2="460.40" y2="348.44" stroke="#b3b3b3" stroke-width="1"/>
<text transform="translate(454.50,348.94) scale(0.905,1)" font-size="11.6" fill="#555555" text-anchor="end" dominant-baseline="central">0.8</text>
<line x1="457.70" y1="325.80" x2="460.40" y2="325.80" stroke="#b3b3b3" stroke-width="1"/>
<text transform="translate(454.50,326.30) scale(0.905,1)" font-size="11.6" fill="#555555" text-anchor="end" dominant-baseline="central">1.0</text>
<line x1="457.70" y1="516.16" x2="460.40" y2="516.16" stroke="#b3b3b3" stroke-width="1"/>
<text transform="translate(454.50,516.66) scale(0.905,1)" font-size="11.6" fill="#555555" text-anchor="end" dominant-baseline="central">0.2</text>
<line x1="457.70" y1="493.52" x2="460.40" y2="493.52" stroke="#b3b3b3" stroke-width="1"/>
<text transform="translate(454.50,494.02) scale(0.905,1)" font-size="11.6" fill="#555555" text-anchor="end" dominant-baseline="central">0.4</text>
<line x1="457.70" y1="470.88" x2="460.40" y2="470.88" stroke="#b3b3b3" stroke-width="1"/>
<text transform="translate(454.50,471.38) scale(0.905,1)" font-size="11.6" fill="#555555" text-anchor="end" dominant-baseline="central">0.6</text>
<line x1="457.70" y1="448.24" x2="460.40" y2="448.24" stroke="#b3b3b3" stroke-width="1"/>
<text transform="translate(454.50,448.74) scale(0.905,1)" font-size="11.6" fill="#555555" text-anchor="end" dominant-baseline="central">0.8</text>
<line x1="457.70" y1="425.60" x2="460.40" y2="425.60" stroke="#b3b3b3" stroke-width="1"/>
<text transform="translate(454.50,426.10) scale(0.905,1)" font-size="11.6" fill="#555555" text-anchor="end" dominant-baseline="central">1.0</text>
<line x1="465.70" y1="520.60" x2="465.70" y2="523.30" stroke="#b3b3b3" stroke-width="1"/>
<text transform="translate(465.70,531.60) scale(0.905,1)" font-size="11.6" fill="#555555" text-anchor="middle" dominant-baseline="central">0.0</text>
<line x1="486.10" y1="520.60" x2="486.10" y2="523.30" stroke="#b3b3b3" stroke-width="1"/>
<text transform="translate(486.10,531.60) scale(0.905,1)" font-size="11.6" fill="#555555" text-anchor="middle" dominant-baseline="central">0.2</text>
<line x1="506.50" y1="520.60" x2="506.50" y2="523.30" stroke="#b3b3b3" stroke-width="1"/>
<text transform="translate(506.50,531.60) scale(0.905,1)" font-size="11.6" fill="#555555" text-anchor="middle" dominant-baseline="central">0.4</text>
<line x1="526.90" y1="520.60" x2="526.90" y2="523.30" stroke="#b3b3b3" stroke-width="1"/>
<text transform="translate(526.90,531.60) scale(0.905,1)" font-size="11.6" fill="#555555" text-anchor="middle" dominant-baseline="central">0.6</text>
<line x1="547.30" y1="520.60" x2="547.30" y2="523.30" stroke="#b3b3b3" stroke-width="1"/>
<text transform="translate(547.30,531.60) scale(0.905,1)" font-size="11.6" fill="#555555" text-anchor="middle" dominant-baseline="central">0.8</text>
<line x1="567.30" y1="520.60" x2="567.30" y2="523.30" stroke="#b3b3b3" stroke-width="1"/>
<text transform="translate(567.30,531.60) scale(0.905,1)" font-size="11.6" fill="#555555" text-anchor="middle" dominant-baseline="central">0.0</text>
<line x1="587.70" y1="520.60" x2="587.70" y2="523.30" stroke="#b3b3b3" stroke-width="1"/>
<text transform="translate(587.70,531.60) scale(0.905,1)" font-size="11.6" fill="#555555" text-anchor="middle" dominant-baseline="central">0.2</text>
<line x1="608.10" y1="520.60" x2="608.10" y2="523.30" stroke="#b3b3b3" stroke-width="1"/>
<text transform="translate(608.10,531.60) scale(0.905,1)" font-size="11.6" fill="#555555" text-anchor="middle" dominant-baseline="central">0.4</text>
<line x1="628.50" y1="520.60" x2="628.50" y2="523.30" stroke="#b3b3b3" stroke-width="1"/>
<text transform="translate(628.50,531.60) scale(0.905,1)" font-size="11.6" fill="#555555" text-anchor="middle" dominant-baseline="central">0.6</text>
<line x1="648.90" y1="520.60" x2="648.90" y2="523.30" stroke="#b3b3b3" stroke-width="1"/>
<text transform="translate(648.90,531.60) scale(0.905,1)" font-size="11.6" fill="#555555" text-anchor="middle" dominant-baseline="central">0.8</text>
<rect x="460.2" y="0.9" width="203.70" height="21.70" fill="#b3b3b3"/>
<text x="512.40" y="12.20" font-size="10" fill="#fff" text-anchor="middle" dominant-baseline="central"><tspan font-weight="bold">WGBS</tspan> sample1</text>
<text x="607.00" y="12.20" font-size="10" fill="#fff" text-anchor="middle" dominant-baseline="central">sample2</text>
<rect x="663.9" y="22.5" width="21.10" height="498.30" fill="#b3b3b3"/>
<text transform="translate(673.25,74.30) rotate(90)" font-size="10" fill="#fff" text-anchor="middle" dominant-baseline="central"><tspan font-weight="bold">WGS</tspan> sample1</text>
<text transform="translate(673.25,171.30) rotate(90)" font-size="10" fill="#fff" text-anchor="middle" dominant-baseline="central">sample2</text>
<text transform="translate(673.25,268.80) rotate(90)" font-size="10" fill="#fff" text-anchor="middle" dominant-baseline="central">sample3</text>
<text transform="translate(673.25,366.70) rotate(90)" font-size="10" fill="#fff" text-anchor="middle" dominant-baseline="central">sample4</text>
<text transform="translate(673.25,465.20) rotate(90)" font-size="10" fill="#fff" text-anchor="middle" dominant-baseline="central">sample5</text>
<text x="229.3" y="187.5" font-size="12.5" font-weight="bold" text-anchor="middle" dominant-baseline="central" fill="#000">GM23248</text>
<rect x="39.70" y="218.30" width="93.28" height="101.10" fill="#fff"/>
<line x1="53.38" y1="218.30" x2="53.38" y2="319.40" stroke="#e8e8e8" stroke-width="1.05"/>
<line x1="72.12" y1="218.30" x2="72.12" y2="319.40" stroke="#e8e8e8" stroke-width="1.05"/>
<line x1="90.88" y1="218.30" x2="90.88" y2="319.40" stroke="#e8e8e8" stroke-width="1.05"/>
<line x1="109.62" y1="218.30" x2="109.62" y2="319.40" stroke="#e8e8e8" stroke-width="1.05"/>
<line x1="128.38" y1="218.30" x2="128.38" y2="319.40" stroke="#e8e8e8" stroke-width="1.05"/>
<line x1="39.70" y1="303.38" x2="132.98" y2="303.38" stroke="#e8e8e8" stroke-width="1.05"/>
<line x1="39.70" y1="280.33" x2="132.98" y2="280.33" stroke="#e8e8e8" stroke-width="1.05"/>
<line x1="39.70" y1="257.28" x2="132.98" y2="257.28" stroke="#e8e8e8" stroke-width="1.05"/>
<line x1="39.70" y1="234.23" x2="132.98" y2="234.23" stroke="#e8e8e8" stroke-width="1.05"/>
<line x1="44.00" y1="218.30" x2="44.00" y2="319.40" stroke="#e5e5e5" stroke-width="1.1"/>
<line x1="62.75" y1="218.30" x2="62.75" y2="319.40" stroke="#e5e5e5" stroke-width="1.1"/>
<line x1="81.50" y1="218.30" x2="81.50" y2="319.40" stroke="#e5e5e5" stroke-width="1.1"/>
<line x1="100.25" y1="218.30" x2="100.25" y2="319.40" stroke="#e5e5e5" stroke-width="1.1"/>
<line x1="119.00" y1="218.30" x2="119.00" y2="319.40" stroke="#e5e5e5" stroke-width="1.1"/>
<line x1="39.70" y1="314.90" x2="132.98" y2="314.90" stroke="#e5e5e5" stroke-width="1.1"/>
<line x1="39.70" y1="291.85" x2="132.98" y2="291.85" stroke="#e5e5e5" stroke-width="1.1"/>
<line x1="39.70" y1="268.80" x2="132.98" y2="268.80" stroke="#e5e5e5" stroke-width="1.1"/>
<line x1="39.70" y1="245.75" x2="132.98" y2="245.75" stroke="#e5e5e5" stroke-width="1.1"/>
<line x1="39.70" y1="222.70" x2="132.98" y2="222.70" stroke="#e5e5e5" stroke-width="1.1"/>
<rect x="132.98" y="218.30" width="93.28" height="101.10" fill="#fff"/>
<line x1="146.66" y1="218.30" x2="146.66" y2="319.40" stroke="#e8e8e8" stroke-width="1.05"/>
<line x1="165.41" y1="218.30" x2="165.41" y2="319.40" stroke="#e8e8e8" stroke-width="1.05"/>
<line x1="184.16" y1="218.30" x2="184.16" y2="319.40" stroke="#e8e8e8" stroke-width="1.05"/>
<line x1="202.91" y1="218.30" x2="202.91" y2="319.40" stroke="#e8e8e8" stroke-width="1.05"/>
<line x1="221.66" y1="218.30" x2="221.66" y2="319.40" stroke="#e8e8e8" stroke-width="1.05"/>
<line x1="132.98" y1="303.38" x2="226.26" y2="303.38" stroke="#e8e8e8" stroke-width="1.05"/>
<line x1="132.98" y1="280.33" x2="226.26" y2="280.33" stroke="#e8e8e8" stroke-width="1.05"/>
<line x1="132.98" y1="257.28" x2="226.26" y2="257.28" stroke="#e8e8e8" stroke-width="1.05"/>
<line x1="132.98" y1="234.23" x2="226.26" y2="234.23" stroke="#e8e8e8" stroke-width="1.05"/>
<line x1="137.28" y1="218.30" x2="137.28" y2="319.40" stroke="#e5e5e5" stroke-width="1.1"/>
<line x1="156.03" y1="218.30" x2="156.03" y2="319.40" stroke="#e5e5e5" stroke-width="1.1"/>
<line x1="174.78" y1="218.30" x2="174.78" y2="319.40" stroke="#e5e5e5" stroke-width="1.1"/>
<line x1="193.53" y1="218.30" x2="193.53" y2="319.40" stroke="#e5e5e5" stroke-width="1.1"/>
<line x1="212.28" y1="218.30" x2="212.28" y2="319.40" stroke="#e5e5e5" stroke-width="1.1"/>
<line x1="132.98" y1="314.90" x2="226.26" y2="314.90" stroke="#e5e5e5" stroke-width="1.1"/>
<line x1="132.98" y1="291.85" x2="226.26" y2="291.85" stroke="#e5e5e5" stroke-width="1.1"/>
<line x1="132.98" y1="268.80" x2="226.26" y2="268.80" stroke="#e5e5e5" stroke-width="1.1"/>
<line x1="132.98" y1="245.75" x2="226.26" y2="245.75" stroke="#e5e5e5" stroke-width="1.1"/>
<line x1="132.98" y1="222.70" x2="226.26" y2="222.70" stroke="#e5e5e5" stroke-width="1.1"/>
<rect x="226.26" y="218.30" width="93.28" height="101.10" fill="#fff"/>
<line x1="239.94" y1="218.30" x2="239.94" y2="319.40" stroke="#e8e8e8" stroke-width="1.05"/>
<line x1="258.69" y1="218.30" x2="258.69" y2="319.40" stroke="#e8e8e8" stroke-width="1.05"/>
<line x1="277.44" y1="218.30" x2="277.44" y2="319.40" stroke="#e8e8e8" stroke-width="1.05"/>
<line x1="296.19" y1="218.30" x2="296.19" y2="319.40" stroke="#e8e8e8" stroke-width="1.05"/>
<line x1="314.94" y1="218.30" x2="314.94" y2="319.40" stroke="#e8e8e8" stroke-width="1.05"/>
<line x1="226.26" y1="303.38" x2="319.54" y2="303.38" stroke="#e8e8e8" stroke-width="1.05"/>
<line x1="226.26" y1="280.33" x2="319.54" y2="280.33" stroke="#e8e8e8" stroke-width="1.05"/>
<line x1="226.26" y1="257.28" x2="319.54" y2="257.28" stroke="#e8e8e8" stroke-width="1.05"/>
<line x1="226.26" y1="234.23" x2="319.54" y2="234.23" stroke="#e8e8e8" stroke-width="1.05"/>
<line x1="230.56" y1="218.30" x2="230.56" y2="319.40" stroke="#e5e5e5" stroke-width="1.1"/>
<line x1="249.31" y1="218.30" x2="249.31" y2="319.40" stroke="#e5e5e5" stroke-width="1.1"/>
<line x1="268.06" y1="218.30" x2="268.06" y2="319.40" stroke="#e5e5e5" stroke-width="1.1"/>
<line x1="286.81" y1="218.30" x2="286.81" y2="319.40" stroke="#e5e5e5" stroke-width="1.1"/>
<line x1="305.56" y1="218.30" x2="305.56" y2="319.40" stroke="#e5e5e5" stroke-width="1.1"/>
<line x1="226.26" y1="314.90" x2="319.54" y2="314.90" stroke="#e5e5e5" stroke-width="1.1"/>
<line x1="226.26" y1="291.85" x2="319.54" y2="291.85" stroke="#e5e5e5" stroke-width="1.1"/>
<line x1="226.26" y1="268.80" x2="319.54" y2="268.80" stroke="#e5e5e5" stroke-width="1.1"/>
<line x1="226.26" y1="245.75" x2="319.54" y2="245.75" stroke="#e5e5e5" stroke-width="1.1"/>
<line x1="226.26" y1="222.70" x2="319.54" y2="222.70" stroke="#e5e5e5" stroke-width="1.1"/>
<rect x="319.54" y="218.30" width="93.28" height="101.10" fill="#fff"/>
<line x1="333.22" y1="218.30" x2="333.22" y2="319.40" stroke="#e8e8e8" stroke-width="1.05"/>
<line x1="351.97" y1="218.30" x2="351.97" y2="319.40" stroke="#e8e8e8" stroke-width="1.05"/>
<line x1="370.72" y1="218.30" x2="370.72" y2="319.40" stroke="#e8e8e8" stroke-width="1.05"/>
<line x1="389.47" y1="218.30" x2="389.47" y2="319.40" stroke="#e8e8e8" stroke-width="1.05"/>
<line x1="408.22" y1="218.30" x2="408.22" y2="319.40" stroke="#e8e8e8" stroke-width="1.05"/>
<line x1="319.54" y1="303.38" x2="412.82" y2="303.38" stroke="#e8e8e8" stroke-width="1.05"/>
<line x1="319.54" y1="280.33" x2="412.82" y2="280.33" stroke="#e8e8e8" stroke-width="1.05"/>
<line x1="319.54" y1="257.28" x2="412.82" y2="257.28" stroke="#e8e8e8" stroke-width="1.05"/>
<line x1="319.54" y1="234.23" x2="412.82" y2="234.23" stroke="#e8e8e8" stroke-width="1.05"/>
<line x1="323.84" y1="218.30" x2="323.84" y2="319.40" stroke="#e5e5e5" stroke-width="1.1"/>
<line x1="342.59" y1="218.30" x2="342.59" y2="319.40" stroke="#e5e5e5" stroke-width="1.1"/>
<line x1="361.34" y1="218.30" x2="361.34" y2="319.40" stroke="#e5e5e5" stroke-width="1.1"/>
<line x1="380.09" y1="218.30" x2="380.09" y2="319.40" stroke="#e5e5e5" stroke-width="1.1"/>
<line x1="398.84" y1="218.30" x2="398.84" y2="319.40" stroke="#e5e5e5" stroke-width="1.1"/>
<line x1="319.54" y1="314.90" x2="412.82" y2="314.90" stroke="#e5e5e5" stroke-width="1.1"/>
<line x1="319.54" y1="291.85" x2="412.82" y2="291.85" stroke="#e5e5e5" stroke-width="1.1"/>
<line x1="319.54" y1="268.80" x2="412.82" y2="268.80" stroke="#e5e5e5" stroke-width="1.1"/>
<line x1="319.54" y1="245.75" x2="412.82" y2="245.75" stroke="#e5e5e5" stroke-width="1.1"/>
<line x1="319.54" y1="222.70" x2="412.82" y2="222.70" stroke="#e5e5e5" stroke-width="1.1"/>
<rect x="39.70" y="319.40" width="93.28" height="101.10" fill="#fff"/>
<line x1="53.38" y1="319.40" x2="53.38" y2="420.50" stroke="#e8e8e8" stroke-width="1.05"/>
<line x1="72.12" y1="319.40" x2="72.12" y2="420.50" stroke="#e8e8e8" stroke-width="1.05"/>
<line x1="90.88" y1="319.40" x2="90.88" y2="420.50" stroke="#e8e8e8" stroke-width="1.05"/>
<line x1="109.62" y1="319.40" x2="109.62" y2="420.50" stroke="#e8e8e8" stroke-width="1.05"/>
<line x1="128.38" y1="319.40" x2="128.38" y2="420.50" stroke="#e8e8e8" stroke-width="1.05"/>
<line x1="39.70" y1="404.47" x2="132.98" y2="404.47" stroke="#e8e8e8" stroke-width="1.05"/>
<line x1="39.70" y1="381.42" x2="132.98" y2="381.42" stroke="#e8e8e8" stroke-width="1.05"/>
<line x1="39.70" y1="358.37" x2="132.98" y2="358.37" stroke="#e8e8e8" stroke-width="1.05"/>
<line x1="39.70" y1="335.32" x2="132.98" y2="335.32" stroke="#e8e8e8" stroke-width="1.05"/>
<line x1="44.00" y1="319.40" x2="44.00" y2="420.50" stroke="#e5e5e5" stroke-width="1.1"/>
<line x1="62.75" y1="319.40" x2="62.75" y2="420.50" stroke="#e5e5e5" stroke-width="1.1"/>
<line x1="81.50" y1="319.40" x2="81.50" y2="420.50" stroke="#e5e5e5" stroke-width="1.1"/>
<line x1="100.25" y1="319.40" x2="100.25" y2="420.50" stroke="#e5e5e5" stroke-width="1.1"/>
<line x1="119.00" y1="319.40" x2="119.00" y2="420.50" stroke="#e5e5e5" stroke-width="1.1"/>
<line x1="39.70" y1="416.00" x2="132.98" y2="416.00" stroke="#e5e5e5" stroke-width="1.1"/>
<line x1="39.70" y1="392.95" x2="132.98" y2="392.95" stroke="#e5e5e5" stroke-width="1.1"/>
<line x1="39.70" y1="369.90" x2="132.98" y2="369.90" stroke="#e5e5e5" stroke-width="1.1"/>
<line x1="39.70" y1="346.85" x2="132.98" y2="346.85" stroke="#e5e5e5" stroke-width="1.1"/>
<line x1="39.70" y1="323.80" x2="132.98" y2="323.80" stroke="#e5e5e5" stroke-width="1.1"/>
<rect x="132.98" y="319.40" width="93.28" height="101.10" fill="#fff"/>
<line x1="146.66" y1="319.40" x2="146.66" y2="420.50" stroke="#e8e8e8" stroke-width="1.05"/>
<line x1="165.41" y1="319.40" x2="165.41" y2="420.50" stroke="#e8e8e8" stroke-width="1.05"/>
<line x1="184.16" y1="319.40" x2="184.16" y2="420.50" stroke="#e8e8e8" stroke-width="1.05"/>
<line x1="202.91" y1="319.40" x2="202.91" y2="420.50" stroke="#e8e8e8" stroke-width="1.05"/>
<line x1="221.66" y1="319.40" x2="221.66" y2="420.50" stroke="#e8e8e8" stroke-width="1.05"/>
<line x1="132.98" y1="404.47" x2="226.26" y2="404.47" stroke="#e8e8e8" stroke-width="1.05"/>
<line x1="132.98" y1="381.42" x2="226.26" y2="381.42" stroke="#e8e8e8" stroke-width="1.05"/>
<line x1="132.98" y1="358.37" x2="226.26" y2="358.37" stroke="#e8e8e8" stroke-width="1.05"/>
<line x1="132.98" y1="335.32" x2="226.26" y2="335.32" stroke="#e8e8e8" stroke-width="1.05"/>
<line x1="137.28" y1="319.40" x2="137.28" y2="420.50" stroke="#e5e5e5" stroke-width="1.1"/>
<line x1="156.03" y1="319.40" x2="156.03" y2="420.50" stroke="#e5e5e5" stroke-width="1.1"/>
<line x1="174.78" y1="319.40" x2="174.78" y2="420.50" stroke="#e5e5e5" stroke-width="1.1"/>
<line x1="193.53" y1="319.40" x2="193.53" y2="420.50" stroke="#e5e5e5" stroke-width="1.1"/>
<line x1="212.28" y1="319.40" x2="212.28" y2="420.50" stroke="#e5e5e5" stroke-width="1.1"/>
<line x1="132.98" y1="416.00" x2="226.26" y2="416.00" stroke="#e5e5e5" stroke-width="1.1"/>
<line x1="132.98" y1="392.95" x2="226.26" y2="392.95" stroke="#e5e5e5" stroke-width="1.1"/>
<line x1="132.98" y1="369.90" x2="226.26" y2="369.90" stroke="#e5e5e5" stroke-width="1.1"/>
<line x1="132.98" y1="346.85" x2="226.26" y2="346.85" stroke="#e5e5e5" stroke-width="1.1"/>
<line x1="132.98" y1="323.80" x2="226.26" y2="323.80" stroke="#e5e5e5" stroke-width="1.1"/>
<rect x="226.26" y="319.40" width="93.28" height="101.10" fill="#fff"/>
<line x1="239.94" y1="319.40" x2="239.94" y2="420.50" stroke="#e8e8e8" stroke-width="1.05"/>
<line x1="258.69" y1="319.40" x2="258.69" y2="420.50" stroke="#e8e8e8" stroke-width="1.05"/>
<line x1="277.44" y1="319.40" x2="277.44" y2="420.50" stroke="#e8e8e8" stroke-width="1.05"/>
<line x1="296.19" y1="319.40" x2="296.19" y2="420.50" stroke="#e8e8e8" stroke-width="1.05"/>
<line x1="314.94" y1="319.40" x2="314.94" y2="420.50" stroke="#e8e8e8" stroke-width="1.05"/>
<line x1="226.26" y1="404.47" x2="319.54" y2="404.47" stroke="#e8e8e8" stroke-width="1.05"/>
<line x1="226.26" y1="381.42" x2="319.54" y2="381.42" stroke="#e8e8e8" stroke-width="1.05"/>
<line x1="226.26" y1="358.37" x2="319.54" y2="358.37" stroke="#e8e8e8" stroke-width="1.05"/>
<line x1="226.26" y1="335.32" x2="319.54" y2="335.32" stroke="#e8e8e8" stroke-width="1.05"/>
<line x1="230.56" y1="319.40" x2="230.56" y2="420.50" stroke="#e5e5e5" stroke-width="1.1"/>
<line x1="249.31" y1="319.40" x2="249.31" y2="420.50" stroke="#e5e5e5" stroke-width="1.1"/>
<line x1="268.06" y1="319.40" x2="268.06" y2="420.50" stroke="#e5e5e5" stroke-width="1.1"/>
<line x1="286.81" y1="319.40" x2="286.81" y2="420.50" stroke="#e5e5e5" stroke-width="1.1"/>
<line x1="305.56" y1="319.40" x2="305.56" y2="420.50" stroke="#e5e5e5" stroke-width="1.1"/>
<line x1="226.26" y1="416.00" x2="319.54" y2="416.00" stroke="#e5e5e5" stroke-width="1.1"/>
<line x1="226.26" y1="392.95" x2="319.54" y2="392.95" stroke="#e5e5e5" stroke-width="1.1"/>
<line x1="226.26" y1="369.90" x2="319.54" y2="369.90" stroke="#e5e5e5" stroke-width="1.1"/>
<line x1="226.26" y1="346.85" x2="319.54" y2="346.85" stroke="#e5e5e5" stroke-width="1.1"/>
<line x1="226.26" y1="323.80" x2="319.54" y2="323.80" stroke="#e5e5e5" stroke-width="1.1"/>
<rect x="319.54" y="319.40" width="93.28" height="101.10" fill="#fff"/>
<line x1="333.22" y1="319.40" x2="333.22" y2="420.50" stroke="#e8e8e8" stroke-width="1.05"/>
<line x1="351.97" y1="319.40" x2="351.97" y2="420.50" stroke="#e8e8e8" stroke-width="1.05"/>
<line x1="370.72" y1="319.40" x2="370.72" y2="420.50" stroke="#e8e8e8" stroke-width="1.05"/>
<line x1="389.47" y1="319.40" x2="389.47" y2="420.50" stroke="#e8e8e8" stroke-width="1.05"/>
<line x1="408.22" y1="319.40" x2="408.22" y2="420.50" stroke="#e8e8e8" stroke-width="1.05"/>
<line x1="319.54" y1="404.47" x2="412.82" y2="404.47" stroke="#e8e8e8" stroke-width="1.05"/>
<line x1="319.54" y1="381.42" x2="412.82" y2="381.42" stroke="#e8e8e8" stroke-width="1.05"/>
<line x1="319.54" y1="358.37" x2="412.82" y2="358.37" stroke="#e8e8e8" stroke-width="1.05"/>
<line x1="319.54" y1="335.32" x2="412.82" y2="335.32" stroke="#e8e8e8" stroke-width="1.05"/>
<line x1="323.84" y1="319.40" x2="323.84" y2="420.50" stroke="#e5e5e5" stroke-width="1.1"/>
<line x1="342.59" y1="319.40" x2="342.59" y2="420.50" stroke="#e5e5e5" stroke-width="1.1"/>
<line x1="361.34" y1="319.40" x2="361.34" y2="420.50" stroke="#e5e5e5" stroke-width="1.1"/>
<line x1="380.09" y1="319.40" x2="380.09" y2="420.50" stroke="#e5e5e5" stroke-width="1.1"/>
<line x1="398.84" y1="319.40" x2="398.84" y2="420.50" stroke="#e5e5e5" stroke-width="1.1"/>
<line x1="319.54" y1="416.00" x2="412.82" y2="416.00" stroke="#e5e5e5" stroke-width="1.1"/>
<line x1="319.54" y1="392.95" x2="412.82" y2="392.95" stroke="#e5e5e5" stroke-width="1.1"/>
<line x1="319.54" y1="369.90" x2="412.82" y2="369.90" stroke="#e5e5e5" stroke-width="1.1"/>
<line x1="319.54" y1="346.85" x2="412.82" y2="346.85" stroke="#e5e5e5" stroke-width="1.1"/>
<line x1="319.54" y1="323.80" x2="412.82" y2="323.80" stroke="#e5e5e5" stroke-width="1.1"/>
<rect x="39.70" y="420.50" width="93.28" height="101.10" fill="#fff"/>
<line x1="53.38" y1="420.50" x2="53.38" y2="521.60" stroke="#e8e8e8" stroke-width="1.05"/>
<line x1="72.12" y1="420.50" x2="72.12" y2="521.60" stroke="#e8e8e8" stroke-width="1.05"/>
<line x1="90.88" y1="420.50" x2="90.88" y2="521.60" stroke="#e8e8e8" stroke-width="1.05"/>
<line x1="109.62" y1="420.50" x2="109.62" y2="521.60" stroke="#e8e8e8" stroke-width="1.05"/>
<line x1="128.38" y1="420.50" x2="128.38" y2="521.60" stroke="#e8e8e8" stroke-width="1.05"/>
<line x1="39.70" y1="505.57" x2="132.98" y2="505.57" stroke="#e8e8e8" stroke-width="1.05"/>
<line x1="39.70" y1="482.52" x2="132.98" y2="482.52" stroke="#e8e8e8" stroke-width="1.05"/>
<line x1="39.70" y1="459.47" x2="132.98" y2="459.47" stroke="#e8e8e8" stroke-width="1.05"/>
<line x1="39.70" y1="436.42" x2="132.98" y2="436.42" stroke="#e8e8e8" stroke-width="1.05"/>
<line x1="44.00" y1="420.50" x2="44.00" y2="521.60" stroke="#e5e5e5" stroke-width="1.1"/>
<line x1="62.75" y1="420.50" x2="62.75" y2="521.60" stroke="#e5e5e5" stroke-width="1.1"/>
<line x1="81.50" y1="420.50" x2="81.50" y2="521.60" stroke="#e5e5e5" stroke-width="1.1"/>
<line x1="100.25" y1="420.50" x2="100.25" y2="521.60" stroke="#e5e5e5" stroke-width="1.1"/>
<line x1="119.00" y1="420.50" x2="119.00" y2="521.60" stroke="#e5e5e5" stroke-width="1.1"/>
<line x1="39.70" y1="517.10" x2="132.98" y2="517.10" stroke="#e5e5e5" stroke-width="1.1"/>
<line x1="39.70" y1="494.05" x2="132.98" y2="494.05" stroke="#e5e5e5" stroke-width="1.1"/>
<line x1="39.70" y1="471.00" x2="132.98" y2="471.00" stroke="#e5e5e5" stroke-width="1.1"/>
<line x1="39.70" y1="447.95" x2="132.98" y2="447.95" stroke="#e5e5e5" stroke-width="1.1"/>
<line x1="39.70" y1="424.90" x2="132.98" y2="424.90" stroke="#e5e5e5" stroke-width="1.1"/>
<rect x="132.98" y="420.50" width="93.28" height="101.10" fill="#fff"/>
<line x1="146.66" y1="420.50" x2="146.66" y2="521.60" stroke="#e8e8e8" stroke-width="1.05"/>
<line x1="165.41" y1="420.50" x2="165.41" y2="521.60" stroke="#e8e8e8" stroke-width="1.05"/>
<line x1="184.16" y1="420.50" x2="184.16" y2="521.60" stroke="#e8e8e8" stroke-width="1.05"/>
<line x1="202.91" y1="420.50" x2="202.91" y2="521.60" stroke="#e8e8e8" stroke-width="1.05"/>
<line x1="221.66" y1="420.50" x2="221.66" y2="521.60" stroke="#e8e8e8" stroke-width="1.05"/>
<line x1="132.98" y1="505.57" x2="226.26" y2="505.57" stroke="#e8e8e8" stroke-width="1.05"/>
<line x1="132.98" y1="482.52" x2="226.26" y2="482.52" stroke="#e8e8e8" stroke-width="1.05"/>
<line x1="132.98" y1="459.47" x2="226.26" y2="459.47" stroke="#e8e8e8" stroke-width="1.05"/>
<line x1="132.98" y1="436.42" x2="226.26" y2="436.42" stroke="#e8e8e8" stroke-width="1.05"/>
<line x1="137.28" y1="420.50" x2="137.28" y2="521.60" stroke="#e5e5e5" stroke-width="1.1"/>
<line x1="156.03" y1="420.50" x2="156.03" y2="521.60" stroke="#e5e5e5" stroke-width="1.1"/>
<line x1="174.78" y1="420.50" x2="174.78" y2="521.60" stroke="#e5e5e5" stroke-width="1.1"/>
<line x1="193.53" y1="420.50" x2="193.53" y2="521.60" stroke="#e5e5e5" stroke-width="1.1"/>
<line x1="212.28" y1="420.50" x2="212.28" y2="521.60" stroke="#e5e5e5" stroke-width="1.1"/>
<line x1="132.98" y1="517.10" x2="226.26" y2="517.10" stroke="#e5e5e5" stroke-width="1.1"/>
<line x1="132.98" y1="494.05" x2="226.26" y2="494.05" stroke="#e5e5e5" stroke-width="1.1"/>
<line x1="132.98" y1="471.00" x2="226.26" y2="471.00" stroke="#e5e5e5" stroke-width="1.1"/>
<line x1="132.98" y1="447.95" x2="226.26" y2="447.95" stroke="#e5e5e5" stroke-width="1.1"/>
<line x1="132.98" y1="424.90" x2="226.26" y2="424.90" stroke="#e5e5e5" stroke-width="1.1"/>
<rect x="226.26" y="420.50" width="93.28" height="101.10" fill="#fff"/>
<line x1="239.94" y1="420.50" x2="239.94" y2="521.60" stroke="#e8e8e8" stroke-width="1.05"/>
<line x1="258.69" y1="420.50" x2="258.69" y2="521.60" stroke="#e8e8e8" stroke-width="1.05"/>
<line x1="277.44" y1="420.50" x2="277.44" y2="521.60" stroke="#e8e8e8" stroke-width="1.05"/>
<line x1="296.19" y1="420.50" x2="296.19" y2="521.60" stroke="#e8e8e8" stroke-width="1.05"/>
<line x1="314.94" y1="420.50" x2="314.94" y2="521.60" stroke="#e8e8e8" stroke-width="1.05"/>
<line x1="226.26" y1="505.57" x2="319.54" y2="505.57" stroke="#e8e8e8" stroke-width="1.05"/>
<line x1="226.26" y1="482.52" x2="319.54" y2="482.52" stroke="#e8e8e8" stroke-width="1.05"/>
<line x1="226.26" y1="459.47" x2="319.54" y2="459.47" stroke="#e8e8e8" stroke-width="1.05"/>
<line x1="226.26" y1="436.42" x2="319.54" y2="436.42" stroke="#e8e8e8" stroke-width="1.05"/>
<line x1="230.56" y1="420.50" x2="230.56" y2="521.60" stroke="#e5e5e5" stroke-width="1.1"/>
<line x1="249.31" y1="420.50" x2="249.31" y2="521.60" stroke="#e5e5e5" stroke-width="1.1"/>
<line x1="268.06" y1="420.50" x2="268.06" y2="521.60" stroke="#e5e5e5" stroke-width="1.1"/>
<line x1="286.81" y1="420.50" x2="286.81" y2="521.60" stroke="#e5e5e5" stroke-width="1.1"/>
<line x1="305.56" y1="420.50" x2="305.56" y2="521.60" stroke="#e5e5e5" stroke-width="1.1"/>
<line x1="226.26" y1="517.10" x2="319.54" y2="517.10" stroke="#e5e5e5" stroke-width="1.1"/>
<line x1="226.26" y1="494.05" x2="319.54" y2="494.05" stroke="#e5e5e5" stroke-width="1.1"/>
<line x1="226.26" y1="471.00" x2="319.54" y2="471.00" stroke="#e5e5e5" stroke-width="1.1"/>
<line x1="226.26" y1="447.95" x2="319.54" y2="447.95" stroke="#e5e5e5" stroke-width="1.1"/>
<line x1="226.26" y1="424.90" x2="319.54" y2="424.90" stroke="#e5e5e5" stroke-width="1.1"/>
<rect x="319.54" y="420.50" width="93.28" height="101.10" fill="#fff"/>
<line x1="333.22" y1="420.50" x2="333.22" y2="521.60" stroke="#e8e8e8" stroke-width="1.05"/>
<line x1="351.97" y1="420.50" x2="351.97" y2="521.60" stroke="#e8e8e8" stroke-width="1.05"/>
<line x1="370.72" y1="420.50" x2="370.72" y2="521.60" stroke="#e8e8e8" stroke-width="1.05"/>
<line x1="389.47" y1="420.50" x2="389.47" y2="521.60" stroke="#e8e8e8" stroke-width="1.05"/>
<line x1="408.22" y1="420.50" x2="408.22" y2="521.60" stroke="#e8e8e8" stroke-width="1.05"/>
<line x1="319.54" y1="505.57" x2="412.82" y2="505.57" stroke="#e8e8e8" stroke-width="1.05"/>
<line x1="319.54" y1="482.52" x2="412.82" y2="482.52" stroke="#e8e8e8" stroke-width="1.05"/>
<line x1="319.54" y1="459.47" x2="412.82" y2="459.47" stroke="#e8e8e8" stroke-width="1.05"/>
<line x1="319.54" y1="436.42" x2="412.82" y2="436.42" stroke="#e8e8e8" stroke-width="1.05"/>
<line x1="323.84" y1="420.50" x2="323.84" y2="521.60" stroke="#e5e5e5" stroke-width="1.1"/>
<line x1="342.59" y1="420.50" x2="342.59" y2="521.60" stroke="#e5e5e5" stroke-width="1.1"/>
<line x1="361.34" y1="420.50" x2="361.34" y2="521.60" stroke="#e5e5e5" stroke-width="1.1"/>
<line x1="380.09" y1="420.50" x2="380.09" y2="521.60" stroke="#e5e5e5" stroke-width="1.1"/>
<line x1="398.84" y1="420.50" x2="398.84" y2="521.60" stroke="#e5e5e5" stroke-width="1.1"/>
<line x1="319.54" y1="517.10" x2="412.82" y2="517.10" stroke="#e5e5e5" stroke-width="1.1"/>
<line x1="319.54" y1="494.05" x2="412.82" y2="494.05" stroke="#e5e5e5" stroke-width="1.1"/>
<line x1="319.54" y1="471.00" x2="412.82" y2="471.00" stroke="#e5e5e5" stroke-width="1.1"/>
<line x1="319.54" y1="447.95" x2="412.82" y2="447.95" stroke="#e5e5e5" stroke-width="1.1"/>
<line x1="319.54" y1="424.90" x2="412.82" y2="424.90" stroke="#e5e5e5" stroke-width="1.1"/>
<rect x="40.20" y="218.80" width="92.28" height="100.10" fill="none" stroke="#b3b3b3" stroke-width="1"/>
<rect x="133.48" y="218.80" width="92.28" height="100.10" fill="none" stroke="#b3b3b3" stroke-width="1"/>
<rect x="226.76" y="218.80" width="92.28" height="100.10" fill="none" stroke="#b3b3b3" stroke-width="1"/>
<rect x="320.04" y="218.80" width="92.28" height="100.10" fill="none" stroke="#b3b3b3" stroke-width="1"/>
<rect x="40.20" y="319.90" width="92.28" height="100.10" fill="none" stroke="#b3b3b3" stroke-width="1"/>
<rect x="133.48" y="319.90" width="92.28" height="100.10" fill="none" stroke="#b3b3b3" stroke-width="1"/>
<rect x="226.76" y="319.90" width="92.28" height="100.10" fill="none" stroke="#b3b3b3" stroke-width="1"/>
<rect x="320.04" y="319.90" width="92.28" height="100.10" fill="none" stroke="#b3b3b3" stroke-width="1"/>
<rect x="40.20" y="421.00" width="92.28" height="100.10" fill="none" stroke="#b3b3b3" stroke-width="1"/>
<rect x="133.48" y="421.00" width="92.28" height="100.10" fill="none" stroke="#b3b3b3" stroke-width="1"/>
<rect x="226.76" y="421.00" width="92.28" height="100.10" fill="none" stroke="#b3b3b3" stroke-width="1"/>
<rect x="320.04" y="421.00" width="92.28" height="100.10" fill="none" stroke="#b3b3b3" stroke-width="1"/>
<line x1="37.00" y1="314.90" x2="39.70" y2="314.90" stroke="#b3b3b3" stroke-width="1"/>
<text transform="translate(33.80,315.40) scale(0.905,1)" font-size="11.6" fill="#555555" text-anchor="end" dominant-baseline="central">0.2</text>
<line x1="37.00" y1="291.85" x2="39.70" y2="291.85" stroke="#b3b3b3" stroke-width="1"/>
<text transform="translate(33.80,292.35) scale(0.905,1)" font-size="11.6" fill="#555555" text-anchor="end" dominant-baseline="central">0.4</text>
<line x1="37.00" y1="268.80" x2="39.70" y2="268.80" stroke="#b3b3b3" stroke-width="1"/>
<text transform="translate(33.80,269.30) scale(0.905,1)" font-size="11.6" fill="#555555" text-anchor="end" dominant-baseline="central">0.6</text>
<line x1="37.00" y1="245.75" x2="39.70" y2="245.75" stroke="#b3b3b3" stroke-width="1"/>
<text transform="translate(33.80,246.25) scale(0.905,1)" font-size="11.6" fill="#555555" text-anchor="end" dominant-baseline="central">0.8</text>
<line x1="37.00" y1="222.70" x2="39.70" y2="222.70" stroke="#b3b3b3" stroke-width="1"/>
<text transform="translate(33.80,223.20) scale(0.905,1)" font-size="11.6" fill="#555555" text-anchor="end" dominant-baseline="central">1.0</text>
<line x1="37.00" y1="416.00" x2="39.70" y2="416.00" stroke="#b3b3b3" stroke-width="1"/>
<text transform="translate(33.80,416.50) scale(0.905,1)" font-size="11.6" fill="#555555" text-anchor="end" dominant-baseline="central">0.2</text>
<line x1="37.00" y1="392.95" x2="39.70" y2="392.95" stroke="#b3b3b3" stroke-width="1"/>
<text transform="translate(33.80,393.45) scale(0.905,1)" font-size="11.6" fill="#555555" text-anchor="end" dominant-baseline="central">0.4</text>
<line x1="37.00" y1="369.90" x2="39.70" y2="369.90" stroke="#b3b3b3" stroke-width="1"/>
<text transform="translate(33.80,370.40) scale(0.905,1)" font-size="11.6" fill="#555555" text-anchor="end" dominant-baseline="central">0.6</text>
<line x1="37.00" y1="346.85" x2="39.70" y2="346.85" stroke="#b3b3b3" stroke-width="1"/>
<text transform="translate(33.80,347.35) scale(0.905,1)" font-size="11.6" fill="#555555" text-anchor="end" dominant-baseline="central">0.8</text>
<line x1="37.00" y1="323.80" x2="39.70" y2="323.80" stroke="#b3b3b3" stroke-width="1"/>
<text transform="translate(33.80,324.30) scale(0.905,1)" font-size="11.6" fill="#555555" text-anchor="end" dominant-baseline="central">1.0</text>
<line x1="37.00" y1="517.10" x2="39.70" y2="517.10" stroke="#b3b3b3" stroke-width="1"/>
<text transform="translate(33.80,517.60) scale(0.905,1)" font-size="11.6" fill="#555555" text-anchor="end" dominant-baseline="central">0.2</text>
<line x1="37.00" y1="494.05" x2="39.70" y2="494.05" stroke="#b3b3b3" stroke-width="1"/>
<text transform="translate(33.80,494.55) scale(0.905,1)" font-size="11.6" fill="#555555" text-anchor="end" dominant-baseline="central">0.4</text>
<line x1="37.00" y1="471.00" x2="39.70" y2="471.00" stroke="#b3b3b3" stroke-width="1"/>
<text transform="translate(33.80,471.50) scale(0.905,1)" font-size="11.6" fill="#555555" text-anchor="end" dominant-baseline="central">0.6</text>
<line x1="37.00" y1="447.95" x2="39.70" y2="447.95" stroke="#b3b3b3" stroke-width="1"/>
<text transform="translate(33.80,448.45) scale(0.905,1)" font-size="11.6" fill="#555555" text-anchor="end" dominant-baseline="central">0.8</text>
<line x1="37.00" y1="424.90" x2="39.70" y2="424.90" stroke="#b3b3b3" stroke-width="1"/>
<text transform="translate(33.80,425.40) scale(0.905,1)" font-size="11.6" fill="#555555" text-anchor="end" dominant-baseline="central">1.0</text>
<line x1="44.00" y1="521.60" x2="44.00" y2="524.30" stroke="#b3b3b3" stroke-width="1"/>
<text transform="translate(44.00,532.60) scale(0.905,1)" font-size="11.6" fill="#555555" text-anchor="middle" dominant-baseline="central">0.0</text>
<line x1="62.75" y1="521.60" x2="62.75" y2="524.30" stroke="#b3b3b3" stroke-width="1"/>
<text transform="translate(62.75,532.60) scale(0.905,1)" font-size="11.6" fill="#555555" text-anchor="middle" dominant-baseline="central">0.2</text>
<line x1="81.50" y1="521.60" x2="81.50" y2="524.30" stroke="#b3b3b3" stroke-width="1"/>
<text transform="translate(81.50,532.60) scale(0.905,1)" font-size="11.6" fill="#555555" text-anchor="middle" dominant-baseline="central">0.4</text>
<line x1="100.25" y1="521.60" x2="100.25" y2="524.30" stroke="#b3b3b3" stroke-width="1"/>
<text transform="translate(100.25,532.60) scale(0.905,1)" font-size="11.6" fill="#555555" text-anchor="middle" dominant-baseline="central">0.6</text>
<line x1="119.00" y1="521.60" x2="119.00" y2="524.30" stroke="#b3b3b3" stroke-width="1"/>
<text transform="translate(119.00,532.60) scale(0.905,1)" font-size="11.6" fill="#555555" text-anchor="middle" dominant-baseline="central">0.8</text>
<line x1="137.28" y1="521.60" x2="137.28" y2="524.30" stroke="#b3b3b3" stroke-width="1"/>
<text transform="translate(137.28,532.60) scale(0.905,1)" font-size="11.6" fill="#555555" text-anchor="middle" dominant-baseline="central">0.0</text>
<line x1="156.03" y1="521.60" x2="156.03" y2="524.30" stroke="#b3b3b3" stroke-width="1"/>
<text transform="translate(156.03,532.60) scale(0.905,1)" font-size="11.6" fill="#555555" text-anchor="middle" dominant-baseline="central">0.2</text>
<line x1="174.78" y1="521.60" x2="174.78" y2="524.30" stroke="#b3b3b3" stroke-width="1"/>
<text transform="translate(174.78,532.60) scale(0.905,1)" font-size="11.6" fill="#555555" text-anchor="middle" dominant-baseline="central">0.4</text>
<line x1="193.53" y1="521.60" x2="193.53" y2="524.30" stroke="#b3b3b3" stroke-width="1"/>
<text transform="translate(193.53,532.60) scale(0.905,1)" font-size="11.6" fill="#555555" text-anchor="middle" dominant-baseline="central">0.6</text>
<line x1="212.28" y1="521.60" x2="212.28" y2="524.30" stroke="#b3b3b3" stroke-width="1"/>
<text transform="translate(212.28,532.60) scale(0.905,1)" font-size="11.6" fill="#555555" text-anchor="middle" dominant-baseline="central">0.8</text>
<line x1="230.56" y1="521.60" x2="230.56" y2="524.30" stroke="#b3b3b3" stroke-width="1"/>
<text transform="translate(230.56,532.60) scale(0.905,1)" font-size="11.6" fill="#555555" text-anchor="middle" dominant-baseline="central">0.0</text>
<line x1="249.31" y1="521.60" x2="249.31" y2="524.30" stroke="#b3b3b3" stroke-width="1"/>
<text transform="translate(249.31,532.60) scale(0.905,1)" font-size="11.6" fill="#555555" text-anchor="middle" dominant-baseline="central">0.2</text>
<line x1="268.06" y1="521.60" x2="268.06" y2="524.30" stroke="#b3b3b3" stroke-width="1"/>
<text transform="translate(268.06,532.60) scale(0.905,1)" font-size="11.6" fill="#555555" text-anchor="middle" dominant-baseline="central">0.4</text>
<line x1="286.81" y1="521.60" x2="286.81" y2="524.30" stroke="#b3b3b3" stroke-width="1"/>
<text transform="translate(286.81,532.60) scale(0.905,1)" font-size="11.6" fill="#555555" text-anchor="middle" dominant-baseline="central">0.6</text>
<line x1="305.56" y1="521.60" x2="305.56" y2="524.30" stroke="#b3b3b3" stroke-width="1"/>
<text transform="translate(305.56,532.60) scale(0.905,1)" font-size="11.6" fill="#555555" text-anchor="middle" dominant-baseline="central">0.8</text>
<line x1="323.84" y1="521.60" x2="323.84" y2="524.30" stroke="#b3b3b3" stroke-width="1"/>
<text transform="translate(323.84,532.60) scale(0.905,1)" font-size="11.6" fill="#555555" text-anchor="middle" dominant-baseline="central">0.0</text>
<line x1="342.59" y1="521.60" x2="342.59" y2="524.30" stroke="#b3b3b3" stroke-width="1"/>
<text transform="translate(342.59,532.60) scale(0.905,1)" font-size="11.6" fill="#555555" text-anchor="middle" dominant-baseline="central">0.2</text>
<line x1="361.34" y1="521.60" x2="361.34" y2="524.30" stroke="#b3b3b3" stroke-width="1"/>
<text transform="translate(361.34,532.60) scale(0.905,1)" font-size="11.6" fill="#555555" text-anchor="middle" dominant-baseline="central">0.4</text>
<line x1="380.09" y1="521.60" x2="380.09" y2="524.30" stroke="#b3b3b3" stroke-width="1"/>
<text transform="translate(380.09,532.60) scale(0.905,1)" font-size="11.6" fill="#555555" text-anchor="middle" dominant-baseline="central">0.6</text>
<line x1="398.84" y1="521.60" x2="398.84" y2="524.30" stroke="#b3b3b3" stroke-width="1"/>
<text transform="translate(398.84,532.60) scale(0.905,1)" font-size="11.6" fill="#555555" text-anchor="middle" dominant-baseline="central">0.8</text>
<rect x="39.8" y="196.1" width="372.70" height="22.50" fill="#b3b3b3"/>
<text x="88.54" y="208.10" font-size="10" fill="#fff" text-anchor="middle" dominant-baseline="central"><tspan font-weight="bold">WGBS</tspan> sample1</text>
<text x="178.42" y="208.10" font-size="10" fill="#fff" text-anchor="middle" dominant-baseline="central">sample2</text>
<text x="274.30" y="208.10" font-size="10" fill="#fff" text-anchor="middle" dominant-baseline="central">sample3</text>
<text x="369.68" y="208.10" font-size="10" fill="#fff" text-anchor="middle" dominant-baseline="central">sample4</text>
<rect x="412.5" y="218.5" width="22.30" height="303.20" fill="#b3b3b3"/>
<text transform="translate(421.20,268.45) rotate(90)" font-size="10" fill="#fff" text-anchor="middle" dominant-baseline="central"><tspan font-weight="bold">WGS</tspan> sample1</text>
<text transform="translate(421.20,366.85) rotate(90)" font-size="10" fill="#fff" text-anchor="middle" dominant-baseline="central">sample2</text>
<text transform="translate(421.20,465.55) rotate(90)" font-size="10" fill="#fff" text-anchor="middle" dominant-baseline="central">sample3</text>
<line x1="6.3" y1="54" x2="6.3" y2="452.6" stroke="#4d4d4d" stroke-width="1"/>
<path d="M6.3,47.8 L9.8,56.2 L6.3,55 L2.8,56.2 Z" fill="#4d4d4d"/>
<text transform="translate(5.1,491.2) rotate(-90)" font-size="14" font-weight="bold" text-anchor="middle" dominant-baseline="central">precision</text>
<text x="71.7" y="548.9" font-size="13.7" font-weight="bold" text-anchor="middle" dominant-baseline="central">sensitivity</text>
<line x1="115" y1="549.6" x2="664" y2="549.6" stroke="#4d4d4d" stroke-width="1"/>
<path d="M670,549.6 L661.6,546.1 L662.8,549.6 L661.6,553.1 Z" fill="#4d4d4d"/>
<text x="278.6" y="14" font-size="11" font-weight="bold" dominant-baseline="central">method</text>
<line x1="278" y1="35.9" x2="296" y2="35.9" stroke="#ee8733" stroke-width="1.8"/>
<circle cx="287" cy="35.9" r="2.4" fill="#ee8733"/>
<text x="307.8" y="36.8" font-size="11" font-weight="bold" font-style="italic" dominant-baseline="central">bsgenova</text>
<line x1="278" y1="57.9" x2="296" y2="57.9" stroke="#1f74b0" stroke-width="1.8"/>
<circle cx="287" cy="57.9" r="2.4" fill="#1f74b0"/>
<text x="307.8" y="58.8" font-size="11" dominant-baseline="central">cgmaptools_bayes</text>
<line x1="278" y1="79.4" x2="296" y2="79.4" stroke="#d62728" stroke-width="1.8"/>
<circle cx="287" cy="79.4" r="2.4" fill="#d62728"/>
<text x="307.8" y="80.3" font-size="11" dominant-baseline="central">cgmaptools_binom</text>
<line x1="278" y1="101.1" x2="296" y2="101.1" stroke="#2e9a35" stroke-width="1.8"/>
<circle cx="287" cy="101.1" r="2.4" fill="#2e9a35"/>
<text x="307.8" y="102.0" font-size="11" dominant-baseline="central">BS-SNPer</text>
<text x="281.8" y="124.3" font-size="11" font-weight="bold" dominant-baseline="central">data</text>
<line x1="281.3" y1="146.9" x2="301.3" y2="146.9" stroke="#000" stroke-width="1.5"/>
<circle cx="289.9" cy="146.9" r="1.9" fill="#000"/>
<line x1="281.3" y1="168.2" x2="301.3" y2="168.2" stroke="#000" stroke-width="1.5" stroke-dasharray="2.8 2.6"/>
<path d="M289.9,165.6 L292.2,169.5 L287.6,169.5 Z" fill="#000"/>
<text x="310.8" y="148.1" font-size="11" dominant-baseline="central">clean</text>
<text x="310.8" y="170.1" font-size="11" dominant-baseline="central">contaminative</text>
<path d="M50.30,60.40 C52.21,59.97 57.22,58.16 61.77,57.83 C66.31,57.50 71.65,57.86 77.58,58.42 C83.51,58.98 90.76,60.13 97.35,61.19 C103.94,62.24 112.50,63.49 117.12,64.74 C121.73,66.00 123.05,67.05 125.02,68.70 C127.00,70.34 127.82,72.72 128.98,74.63 C130.13,76.54 131.45,79.24 131.94,80.16" fill="none" stroke="#ee8733" stroke-width="1.6" stroke-linejoin="round" stroke-dasharray="3.1 2.1"/>
<path d="M50.30,51.90 C55.51,51.93 71.88,51.86 81.53,52.09 C91.19,52.32 102.13,52.55 108.22,53.28 C114.32,54.00 115.30,55.19 118.10,56.44 C120.91,57.69 123.31,58.75 125.02,60.79 C126.74,62.83 127.56,65.73 128.38,68.70 C129.21,71.66 129.70,76.93 129.97,78.58" fill="none" stroke="#ee8733" stroke-width="1.6" stroke-linejoin="round"/>
<path d="M50.30,86.09 C51.55,84.51 54.91,78.68 57.81,76.60 C60.71,74.53 64.40,74.30 67.70,73.64 C70.99,72.98 72.64,72.49 77.58,72.65 C82.52,72.82 91.42,73.64 97.35,74.63 C103.28,75.62 109.21,78.09 113.16,78.58 C117.12,79.08 118.43,77.92 121.07,77.59 C123.71,77.26 127.00,76.28 128.98,76.60 C130.95,76.93 132.27,79.08 132.93,79.57" fill="none" stroke="#1f74b0" stroke-width="1.6" stroke-linejoin="round" stroke-dasharray="3.1 2.1"/>
<path d="M50.30,55.26 C53.20,55.19 61.50,54.66 67.70,54.86 C73.89,55.06 81.86,55.95 87.47,56.44 C93.07,56.94 96.36,57.50 101.30,57.83 C106.24,58.16 113.66,57.86 117.12,58.42 C120.58,58.98 120.74,60.13 122.06,61.19 C123.38,62.24 124.20,63.89 125.02,64.74 C125.85,65.60 126.18,65.67 127.00,66.33 C127.82,66.98 128.98,67.71 129.97,68.70 C130.95,69.69 132.44,71.66 132.93,72.26" fill="none" stroke="#1f74b0" stroke-width="1.6" stroke-linejoin="round"/>
<path d="M78.57,64.74 C81.70,65.40 92.24,67.38 97.35,68.70 C102.46,70.02 106.57,70.84 109.21,72.65 C111.84,74.46 112.50,78.42 113.16,79.57" fill="none" stroke="#2e9a35" stroke-width="1.6" stroke-linejoin="round" stroke-dasharray="3.1 2.1"/>
<path d="M73.63,52.29 C78.90,52.55 99.66,53.11 105.26,53.87 C110.86,54.63 106.67,55.68 107.23,56.84 C107.79,57.99 108.39,60.13 108.62,60.79" fill="none" stroke="#2e9a35" stroke-width="1.6" stroke-linejoin="round"/>
<circle cx="127.40" cy="86.88" r="1.9" fill="#d62728"/>
<path d="M128.98,87.84 L131.38,92.04 L126.58,92.04 Z" fill="#d62728"/>
<text transform="translate(48.92,134.62) scale(0.89,1)" font-size="8.1" fill="#111" textLength="94" lengthAdjust="spacingAndGlyphs" dominant-baseline="central">SNPs from WGS sample:</text>
<text transform="translate(49.51,143.51) scale(0.89,1)" font-size="8.1" fill="#111" dominant-baseline="central">autosomes: 2,843,546</text>
<path d="M151.30,59.80 C153.21,59.47 157.56,57.99 162.77,57.83 C167.97,57.66 175.95,58.25 182.53,58.81 C189.12,59.37 196.37,60.26 202.30,61.19 C208.23,62.11 214.16,63.26 218.12,64.35 C222.07,65.44 224.05,66.16 226.02,67.71 C228.00,69.26 228.92,71.83 229.98,73.64 C231.03,75.45 231.95,77.76 232.35,78.58" fill="none" stroke="#ee8733" stroke-width="1.6" stroke-linejoin="round" stroke-dasharray="3.1 2.1"/>
<path d="M151.30,51.90 C156.51,51.93 173.05,51.86 182.53,52.09 C192.02,52.32 201.64,52.32 208.23,53.28 C214.82,54.23 218.78,55.59 222.07,57.83 C225.36,60.07 226.68,64.25 228.00,66.72 C229.32,69.19 229.65,71.66 229.98,72.65" fill="none" stroke="#ee8733" stroke-width="1.6" stroke-linejoin="round"/>
<path d="M151.30,84.12 C152.22,82.53 154.60,76.87 156.84,74.63 C159.08,72.39 161.12,71.66 164.74,70.67 C168.37,69.69 173.97,68.96 178.58,68.70 C183.19,68.43 187.48,68.43 192.42,69.09 C197.36,69.75 204.61,71.73 208.23,72.65 C211.86,73.57 211.86,74.46 214.16,74.63 C216.47,74.79 219.43,73.90 222.07,73.64 C224.71,73.38 227.84,72.72 229.98,73.05 C232.12,73.38 234.09,75.19 234.92,75.62" fill="none" stroke="#1f74b0" stroke-width="1.6" stroke-linejoin="round" stroke-dasharray="3.1 2.1"/>
<path d="M151.30,54.86 C157.50,55.06 178.98,55.65 188.47,56.05 C197.95,56.44 203.13,56.84 208.23,57.23 C213.34,57.63 216.63,57.66 219.10,58.42 C221.58,59.18 221.74,60.89 223.06,61.78 C224.38,62.67 226.12,62.77 227.01,63.76 C227.90,64.74 227.74,66.56 228.40,67.71 C229.05,68.86 230.04,69.78 230.97,70.67 C231.89,71.56 233.44,72.65 233.93,73.05" fill="none" stroke="#1f74b0" stroke-width="1.6" stroke-linejoin="round"/>
<path d="M182.53,66.33 C184.51,66.66 190.11,67.25 194.40,68.30 C198.68,69.36 205.10,71.27 208.23,72.65 C211.36,74.03 211.79,74.79 213.17,76.60 C214.56,78.42 215.97,82.37 216.53,83.52" fill="none" stroke="#2e9a35" stroke-width="1.6" stroke-linejoin="round" stroke-dasharray="3.1 2.1"/>
<path d="M175.62,52.29 C180.89,52.55 201.64,53.11 207.24,53.87 C212.84,54.63 208.66,55.75 209.22,56.84 C209.78,57.92 210.37,59.80 210.60,60.40" fill="none" stroke="#2e9a35" stroke-width="1.6" stroke-linejoin="round"/>
<circle cx="228.59" cy="85.50" r="1.9" fill="#d62728"/>
<path d="M231.36,86.85 L233.76,91.05 L228.96,91.05 Z" fill="#d62728"/>
<text transform="translate(149.92,143.51) scale(0.89,1)" font-size="8.1" fill="#111" dominant-baseline="central">autosomes: 2,864,096</text>
<path d="M47.34,243.31 C48.56,242.82 51.92,240.93 54.67,240.38 C57.43,239.83 60.18,239.83 63.85,240.01 C67.51,240.20 72.10,240.93 76.69,241.48 C81.27,242.03 86.78,242.49 91.36,243.31 C95.95,244.14 99.98,245.39 104.20,246.43 C108.42,247.47 114.60,249.03 116.67,249.55" fill="none" stroke="#ee8733" stroke-width="1.6" stroke-linejoin="round" stroke-dasharray="3.1 2.1"/>
<path d="M47.34,227.17 C49.78,227.32 57.12,227.72 62.01,228.09 C66.90,228.46 71.79,228.98 76.69,229.37 C81.58,229.77 86.78,229.98 91.36,230.47 C95.95,230.96 99.92,231.70 104.20,232.31 C108.48,232.92 114.90,233.84 117.04,234.14" fill="none" stroke="#ee8733" stroke-width="1.6" stroke-linejoin="round"/>
<path d="M56.51,314.30 C57.43,313.69 58.65,312.07 62.01,310.63 C65.37,309.20 71.79,306.90 76.69,305.68 C81.58,304.46 86.78,304.00 91.36,303.30 C95.95,302.59 100.53,302.07 104.20,301.46 C107.87,300.85 110.32,300.45 113.37,299.63 C116.43,298.80 121.02,297.03 122.54,296.51" fill="none" stroke="#1f74b0" stroke-width="1.6" stroke-linejoin="round" stroke-dasharray="3.1 2.1"/>
<path d="M47.34,231.76 C48.56,231.54 51.31,230.63 54.67,230.47 C58.04,230.32 62.93,230.53 67.51,230.84 C72.10,231.15 77.60,231.85 82.19,232.31 C86.78,232.77 90.44,233.47 95.03,233.59 C99.62,233.71 106.04,232.95 109.70,233.04 C113.37,233.13 115.21,233.29 117.04,234.14 C118.88,235.00 119.55,236.43 120.71,238.18 C121.87,239.92 123.46,243.53 124.01,244.60" fill="none" stroke="#1f74b0" stroke-width="1.6" stroke-linejoin="round"/>
<path d="M61.09,233.59 C63.69,234.05 72.25,235.43 76.69,236.34 C81.12,237.26 85.25,237.87 87.69,239.09 C90.14,240.32 90.44,241.85 91.36,243.68 C92.28,245.51 92.89,249.03 93.20,250.10" fill="none" stroke="#2e9a35" stroke-width="1.6" stroke-linejoin="round" stroke-dasharray="3.1 2.1"/>
<path d="M61.09,226.80 C63.69,227.02 72.25,227.72 76.69,228.09 C81.12,228.46 85.49,228.55 87.69,229.01 C89.89,229.46 89.34,229.31 89.89,230.84 C90.44,232.37 90.69,236.19 90.99,238.18 C91.30,240.16 91.61,242.00 91.73,242.76" fill="none" stroke="#2e9a35" stroke-width="1.6" stroke-linejoin="round"/>
<circle cx="119.79" cy="271.75" r="1.9" fill="#d62728"/>
<path d="M118.33,294.28 L120.73,298.48 L115.93,298.48 Z" fill="#d62728"/>
<text transform="translate(45.50,310.88) scale(0.89,1)" font-size="8.1" fill="#111" dominant-baseline="central">autosomes: 2,857,367</text>
<path d="M140.34,244.60 C141.56,244.14 144.62,242.55 147.67,241.85 C150.73,241.14 154.40,240.38 158.68,240.38 C162.96,240.38 168.46,241.30 173.36,241.85 C178.25,242.40 183.75,243.01 188.03,243.68 C192.31,244.35 195.67,244.90 199.04,245.88 C202.40,246.86 206.68,248.94 208.21,249.55" fill="none" stroke="#ee8733" stroke-width="1.6" stroke-linejoin="round" stroke-dasharray="3.1 2.1"/>
<path d="M140.34,227.54 C142.78,227.63 150.12,227.78 155.01,228.09 C159.90,228.39 164.79,228.91 169.69,229.37 C174.58,229.83 179.78,230.35 184.36,230.84 C188.95,231.33 192.92,231.76 197.20,232.31 C201.48,232.86 207.90,233.84 210.04,234.14" fill="none" stroke="#ee8733" stroke-width="1.6" stroke-linejoin="round"/>
<path d="M139.97,292.29 C140.49,291.22 141.80,287.86 143.09,285.87 C144.37,283.88 145.69,282.05 147.67,280.37 C149.66,278.69 151.95,277.00 155.01,275.78 C158.07,274.56 162.65,273.73 166.02,273.03 C169.38,272.33 172.13,271.62 175.19,271.56 C178.25,271.50 181.30,272.88 184.36,272.66 C187.42,272.45 190.48,271.13 193.53,270.28 C196.59,269.42 199.95,268.23 202.70,267.53 C205.46,266.82 208.15,265.75 210.04,266.06 C211.94,266.36 213.40,268.81 214.08,269.36" fill="none" stroke="#1f74b0" stroke-width="1.6" stroke-linejoin="round" stroke-dasharray="3.1 2.1"/>
<path d="M140.34,231.21 C142.17,231.08 146.45,230.53 151.34,230.47 C156.23,230.41 163.57,230.72 169.69,230.84 C175.80,230.96 182.53,231.05 188.03,231.21 C193.53,231.36 199.04,231.36 202.70,231.76 C206.37,232.15 208.21,232.67 210.04,233.59 C211.88,234.51 212.64,235.73 213.71,237.26 C214.78,238.79 216.00,241.85 216.46,242.76" fill="none" stroke="#1f74b0" stroke-width="1.6" stroke-linejoin="round"/>
<path d="M154.64,233.59 C157.15,234.20 165.35,236.25 169.69,237.26 C174.03,238.27 178.40,237.96 180.69,239.64 C182.99,241.33 182.77,244.84 183.44,247.35 C184.12,249.86 184.42,251.93 184.73,254.69 C185.03,257.44 185.19,262.33 185.28,263.86" fill="none" stroke="#2e9a35" stroke-width="1.6" stroke-linejoin="round" stroke-dasharray="3.1 2.1"/>
<path d="M154.09,226.80 C156.69,227.11 165.41,228.03 169.69,228.64 C173.97,229.25 177.88,229.19 179.78,230.47 C181.67,231.76 180.60,232.92 181.06,236.34 C181.52,239.77 182.13,247.65 182.53,251.02 C182.92,254.38 183.29,255.60 183.44,256.52" fill="none" stroke="#2e9a35" stroke-width="1.6" stroke-linejoin="round"/>
<circle cx="212.24" cy="266.06" r="1.9" fill="#d62728"/>
<path d="M210.78,279.60 L213.18,283.80 L208.38,283.80 Z" fill="#d62728"/>
<text transform="translate(138.87,310.88) scale(0.89,1)" font-size="8.1" fill="#111" dominant-baseline="central">autosomes: 2,729,675</text>
<path d="M233.34,236.34 C235.17,236.19 239.45,235.43 244.34,235.43 C249.23,235.43 256.57,235.73 262.69,236.34 C268.80,236.95 275.53,238.33 281.03,239.09 C286.53,239.86 291.42,240.16 295.70,240.93 C299.98,241.69 303.81,242.92 306.71,243.68 C309.61,244.44 312.06,245.21 313.13,245.51" fill="none" stroke="#ee8733" stroke-width="1.6" stroke-linejoin="round" stroke-dasharray="3.1 2.1"/>
<path d="M233.34,228.09 C234.56,228.30 235.78,228.76 240.67,229.37 C245.57,229.98 255.96,231.05 262.69,231.76 C269.41,232.46 274.92,232.98 281.03,233.59 C287.14,234.20 295.09,234.81 299.37,235.43 C303.65,236.04 304.57,236.50 306.71,237.26 C308.85,238.02 310.99,239.25 312.21,240.01 C313.44,240.78 313.74,241.54 314.05,241.85" fill="none" stroke="#ee8733" stroke-width="1.6" stroke-linejoin="round"/>
<path d="M233.34,257.44 C233.80,256.37 234.87,253.00 236.09,251.02 C237.31,249.03 238.69,247.04 240.67,245.51 C242.66,243.99 244.95,242.76 248.01,241.85 C251.07,240.93 255.04,240.38 259.02,240.01 C262.99,239.64 267.58,239.49 271.86,239.64 C276.14,239.80 280.11,240.41 284.70,240.93 C289.28,241.45 295.40,242.24 299.37,242.76 C303.35,243.28 306.16,243.65 308.54,244.05 C310.93,244.44 312.82,244.96 313.68,245.15" fill="none" stroke="#1f74b0" stroke-width="1.6" stroke-linejoin="round" stroke-dasharray="3.1 2.1"/>
<path d="M233.34,231.76 C235.17,231.60 239.45,230.84 244.34,230.84 C249.23,230.84 256.57,231.39 262.69,231.76 C268.80,232.12 274.92,232.52 281.03,233.04 C287.14,233.56 294.79,234.39 299.37,234.88 C303.96,235.36 306.25,235.49 308.54,235.98 C310.84,236.47 311.97,236.99 313.13,237.81 C314.29,238.64 315.12,240.41 315.51,240.93" fill="none" stroke="#1f74b0" stroke-width="1.6" stroke-linejoin="round"/>
<path d="M273.69,237.26 C275.83,237.72 282.86,239.31 286.53,240.01 C290.20,240.71 293.26,240.87 295.70,241.48 C298.15,242.09 299.83,242.86 301.21,243.68 C302.58,244.51 303.50,245.97 303.96,246.43" fill="none" stroke="#2e9a35" stroke-width="1.6" stroke-linejoin="round" stroke-dasharray="3.1 2.1"/>
<path d="M270.94,229.92 C272.62,230.08 276.90,230.53 281.03,230.84 C285.16,231.15 292.65,231.45 295.70,231.76 C298.76,232.06 298.46,232.15 299.37,232.67 C300.29,233.19 300.90,234.51 301.21,234.88" fill="none" stroke="#2e9a35" stroke-width="1.6" stroke-linejoin="round"/>
<circle cx="311.48" cy="246.98" r="1.9" fill="#d62728"/>
<path d="M313.68,251.17 L316.08,255.37 L311.28,255.37 Z" fill="#d62728"/>
<text transform="translate(231.87,310.88) scale(0.89,1)" font-size="8.1" fill="#111" dominant-baseline="central">autosomes: 3,097,911</text>
<path d="M326.34,239.09 C327.56,238.64 330.31,236.80 333.67,236.34 C337.04,235.88 341.93,236.19 346.51,236.34 C351.10,236.50 356.60,236.80 361.19,237.26 C365.78,237.72 369.44,238.48 374.03,239.09 C378.62,239.71 384.73,240.16 388.70,240.93 C392.68,241.69 395.43,242.76 397.88,243.68 C400.32,244.60 402.46,245.97 403.38,246.43" fill="none" stroke="#ee8733" stroke-width="1.6" stroke-linejoin="round" stroke-dasharray="3.1 2.1"/>
<path d="M326.34,228.64 C328.17,228.76 332.45,229.01 337.34,229.37 C342.23,229.74 349.57,230.35 355.69,230.84 C361.80,231.33 367.92,231.70 374.03,232.31 C380.14,232.92 388.09,233.84 392.37,234.51 C396.65,235.18 397.88,235.73 399.71,236.34 C401.54,236.95 402.77,237.87 403.38,238.18" fill="none" stroke="#ee8733" stroke-width="1.6" stroke-linejoin="round"/>
<path d="M326.34,263.49 C326.64,262.48 327.10,259.52 328.17,257.44 C329.24,255.36 330.92,252.76 332.76,251.02 C334.59,249.28 336.58,248.14 339.18,246.98 C341.78,245.82 344.68,244.75 348.35,244.05 C352.02,243.34 356.91,242.82 361.19,242.76 C365.47,242.70 369.75,243.28 374.03,243.68 C378.31,244.08 383.81,244.54 386.87,245.15 C389.93,245.76 390.23,246.98 392.37,247.35 C394.51,247.72 397.57,247.20 399.71,247.35 C401.85,247.50 403.84,247.65 405.21,248.27 C406.59,248.88 407.51,250.56 407.96,251.02" fill="none" stroke="#1f74b0" stroke-width="1.6" stroke-linejoin="round" stroke-dasharray="3.1 2.1"/>
<path d="M326.34,231.21 C328.17,231.08 332.45,230.47 337.34,230.47 C342.23,230.47 349.57,230.84 355.69,231.21 C361.80,231.57 367.92,232.19 374.03,232.67 C380.14,233.16 388.09,233.68 392.37,234.14 C396.65,234.60 397.72,234.81 399.71,235.43 C401.70,236.04 403.07,236.59 404.30,237.81 C405.52,239.03 406.59,241.94 407.05,242.76" fill="none" stroke="#1f74b0" stroke-width="1.6" stroke-linejoin="round"/>
<path d="M359.36,236.71 C361.80,237.11 370.06,238.48 374.03,239.09 C378.00,239.71 380.76,239.77 383.20,240.38 C385.65,240.99 387.33,241.54 388.70,242.76 C390.08,243.99 391.00,246.89 391.46,247.72" fill="none" stroke="#2e9a35" stroke-width="1.6" stroke-linejoin="round" stroke-dasharray="3.1 2.1"/>
<path d="M356.60,228.09 C359.51,228.30 369.44,229.07 374.03,229.37 C378.62,229.68 381.98,229.43 384.12,229.92 C386.26,230.41 386.26,231.60 386.87,232.31 C387.48,233.01 387.63,233.84 387.79,234.14" fill="none" stroke="#2e9a35" stroke-width="1.6" stroke-linejoin="round"/>
<circle cx="402.83" cy="254.32" r="1.9" fill="#d62728"/>
<path d="M403.93,257.96 L406.33,262.16 L401.53,262.16 Z" fill="#d62728"/>
<text transform="translate(325.42,310.88) scale(0.89,1)" font-size="8.1" fill="#111" dominant-baseline="central">autosomes: 3,024,231</text>
<path d="M47.34,342.85 C48.56,342.30 51.62,340.25 54.67,339.54 C57.73,338.84 61.40,338.63 65.68,338.63 C69.96,338.63 76.07,339.09 80.36,339.54 C84.64,340.00 87.39,340.52 91.36,341.38 C95.34,342.23 100.07,343.67 104.20,344.68 C108.33,345.69 114.14,346.97 116.12,347.43" fill="none" stroke="#ee8733" stroke-width="1.6" stroke-linejoin="round" stroke-dasharray="3.1 2.1"/>
<path d="M47.34,327.80 C49.78,327.87 57.12,327.96 62.01,328.17 C66.90,328.39 71.79,328.72 76.69,329.09 C81.58,329.46 86.78,330.04 91.36,330.37 C95.95,330.71 99.92,330.86 104.20,331.11 C108.48,331.35 114.90,331.72 117.04,331.84" fill="none" stroke="#ee8733" stroke-width="1.6" stroke-linejoin="round"/>
<path d="M56.51,414.75 C57.43,414.08 58.65,412.31 62.01,410.72 C65.37,409.13 71.79,406.50 76.69,405.21 C81.58,403.93 86.78,403.62 91.36,403.01 C95.95,402.40 100.53,402.25 104.20,401.54 C107.87,400.84 110.32,399.71 113.37,398.79 C116.43,397.88 121.02,396.50 122.54,396.04" fill="none" stroke="#1f74b0" stroke-width="1.6" stroke-linejoin="round" stroke-dasharray="3.1 2.1"/>
<path d="M47.34,332.21 C48.56,331.99 51.31,331.14 54.67,330.92 C58.04,330.71 62.93,330.83 67.51,330.92 C72.10,331.01 77.60,331.26 82.19,331.47 C86.78,331.69 90.44,332.08 95.03,332.21 C99.62,332.33 106.04,332.02 109.70,332.21 C113.37,332.39 115.21,332.60 117.04,333.31 C118.88,334.01 119.55,334.99 120.71,336.43 C121.87,337.86 123.46,341.01 124.01,341.93" fill="none" stroke="#1f74b0" stroke-width="1.6" stroke-linejoin="round"/>
<path d="M61.09,333.67 C63.69,334.22 71.95,336.21 76.69,336.98 C81.43,337.74 87.08,336.98 89.53,338.26 C91.97,339.54 90.90,342.63 91.36,344.68 C91.82,346.73 92.13,349.57 92.28,350.55" fill="none" stroke="#2e9a35" stroke-width="1.6" stroke-linejoin="round" stroke-dasharray="3.1 2.1"/>
<path d="M60.54,327.25 C63.23,327.41 72.16,327.77 76.69,328.17 C81.21,328.57 85.49,328.72 87.69,329.64 C89.89,330.56 89.28,331.78 89.89,333.67 C90.50,335.57 90.96,339.33 91.36,341.01 C91.76,342.69 92.13,343.30 92.28,343.76" fill="none" stroke="#2e9a35" stroke-width="1.6" stroke-linejoin="round"/>
<circle cx="119.79" cy="368.53" r="1.9" fill="#d62728"/>
<path d="M117.96,393.44 L120.36,397.64 L115.56,397.64 Z" fill="#d62728"/>
<text transform="translate(45.87,411.88) scale(0.89,1)" font-size="8.1" fill="#111" dominant-baseline="central">autosomes: 2,958,771</text>
<path d="M140.34,344.68 C141.56,344.22 144.92,342.69 147.67,341.93 C150.43,341.16 153.18,340.31 156.85,340.09 C160.51,339.88 165.10,340.34 169.69,340.64 C174.27,340.95 179.78,341.41 184.36,341.93 C188.95,342.45 193.23,342.85 197.20,343.76 C201.18,344.68 206.37,346.82 208.21,347.43" fill="none" stroke="#ee8733" stroke-width="1.6" stroke-linejoin="round" stroke-dasharray="3.1 2.1"/>
<path d="M140.34,327.80 C142.78,327.80 150.12,327.59 155.01,327.80 C159.90,328.02 164.79,328.72 169.69,329.09 C174.58,329.46 179.78,329.61 184.36,330.01 C188.95,330.40 193.23,331.11 197.20,331.47 C201.18,331.84 206.37,332.08 208.21,332.21" fill="none" stroke="#ee8733" stroke-width="1.6" stroke-linejoin="round"/>
<path d="M139.97,392.74 C140.49,391.46 141.65,387.39 143.09,385.04 C144.53,382.68 146.30,380.45 148.59,378.62 C150.88,376.78 153.94,375.10 156.85,374.03 C159.75,372.96 162.96,372.65 166.02,372.20 C169.07,371.74 172.13,371.28 175.19,371.28 C178.25,371.28 181.30,372.50 184.36,372.20 C187.42,371.89 190.48,370.30 193.53,369.44 C196.59,368.59 199.95,367.67 202.70,367.06 C205.46,366.45 208.15,365.59 210.04,365.78 C211.94,365.96 213.40,367.76 214.08,368.16" fill="none" stroke="#1f74b0" stroke-width="1.6" stroke-linejoin="round" stroke-dasharray="3.1 2.1"/>
<path d="M140.34,331.84 C142.17,331.69 146.45,331.08 151.34,330.92 C156.23,330.77 163.57,330.92 169.69,330.92 C175.80,330.92 182.53,330.83 188.03,330.92 C193.53,331.01 199.04,331.17 202.70,331.47 C206.37,331.78 208.21,332.08 210.04,332.76 C211.88,333.43 212.64,334.13 213.71,335.51 C214.78,336.88 216.00,340.09 216.46,341.01" fill="none" stroke="#1f74b0" stroke-width="1.6" stroke-linejoin="round"/>
<path d="M154.64,334.04 C157.15,334.59 165.50,336.49 169.69,337.34 C173.87,338.20 177.70,337.65 179.78,339.18 C181.85,340.71 181.55,343.76 182.16,346.51 C182.77,349.27 183.14,352.78 183.44,355.69 C183.75,358.59 183.90,362.57 183.99,363.94" fill="none" stroke="#2e9a35" stroke-width="1.6" stroke-linejoin="round" stroke-dasharray="3.1 2.1"/>
<path d="M153.54,327.25 C156.23,327.41 165.47,327.71 169.69,328.17 C173.91,328.63 177.02,328.78 178.86,330.01 C180.69,331.23 180.23,332.76 180.69,335.51 C181.15,338.26 181.30,343.30 181.61,346.51 C181.92,349.72 182.37,353.39 182.53,354.77" fill="none" stroke="#2e9a35" stroke-width="1.6" stroke-linejoin="round"/>
<circle cx="212.24" cy="363.57" r="1.9" fill="#d62728"/>
<path d="M210.59,379.32 L212.99,383.52 L208.19,383.52 Z" fill="#d62728"/>
<text transform="translate(138.87,411.88) scale(0.89,1)" font-size="8.1" fill="#111" dominant-baseline="central">autosomes: 2,818,162</text>
<path d="M233.34,335.88 C235.17,335.66 239.45,334.81 244.34,334.59 C249.23,334.38 256.57,334.29 262.69,334.59 C268.80,334.90 275.53,335.81 281.03,336.43 C286.53,337.04 291.42,337.56 295.70,338.26 C299.98,338.96 304.02,340.03 306.71,340.64 C309.40,341.26 310.99,341.71 311.85,341.93" fill="none" stroke="#ee8733" stroke-width="1.6" stroke-linejoin="round" stroke-dasharray="3.1 2.1"/>
<path d="M233.34,328.17 C235.17,328.23 239.45,328.29 244.34,328.54 C249.23,328.78 256.57,329.24 262.69,329.64 C268.80,330.04 274.92,330.50 281.03,330.92 C287.14,331.35 295.09,331.75 299.37,332.21 C303.65,332.67 304.72,332.97 306.71,333.67 C308.70,334.38 310.53,335.97 311.30,336.43" fill="none" stroke="#ee8733" stroke-width="1.6" stroke-linejoin="round"/>
<path d="M233.34,356.60 C233.80,355.53 234.87,352.32 236.09,350.18 C237.31,348.04 238.69,345.44 240.67,343.76 C242.66,342.08 244.95,341.01 248.01,340.09 C251.07,339.18 255.04,338.72 259.02,338.26 C262.99,337.80 267.58,337.34 271.86,337.34 C276.14,337.34 280.11,337.80 284.70,338.26 C289.28,338.72 295.40,339.64 299.37,340.09 C303.35,340.55 306.40,340.61 308.54,341.01 C310.68,341.41 311.60,342.23 312.21,342.48" fill="none" stroke="#1f74b0" stroke-width="1.6" stroke-linejoin="round" stroke-dasharray="3.1 2.1"/>
<path d="M233.34,331.47 C235.17,331.29 239.45,330.56 244.34,330.37 C249.23,330.19 256.57,330.28 262.69,330.37 C268.80,330.46 274.92,330.68 281.03,330.92 C287.14,331.17 294.79,331.53 299.37,331.84 C303.96,332.15 306.25,332.39 308.54,332.76 C310.84,333.12 312.00,333.43 313.13,334.04 C314.26,334.65 314.96,336.03 315.33,336.43" fill="none" stroke="#1f74b0" stroke-width="1.6" stroke-linejoin="round"/>
<path d="M272.78,336.43 C274.76,336.64 280.88,337.25 284.70,337.71 C288.52,338.17 293.26,338.63 295.70,339.18 C298.15,339.73 298.46,340.46 299.37,341.01 C300.29,341.56 300.90,342.23 301.21,342.48" fill="none" stroke="#2e9a35" stroke-width="1.6" stroke-linejoin="round" stroke-dasharray="3.1 2.1"/>
<path d="M270.02,328.17 C271.86,328.23 276.75,328.29 281.03,328.54 C285.31,328.78 292.65,329.15 295.70,329.64 C298.76,330.13 298.61,330.95 299.37,331.47 C300.14,331.99 300.14,332.54 300.29,332.76" fill="none" stroke="#2e9a35" stroke-width="1.6" stroke-linejoin="round"/>
<circle cx="311.30" cy="342.30" r="1.9" fill="#d62728"/>
<path d="M313.31,347.95 L315.71,352.15 L310.91,352.15 Z" fill="#d62728"/>
<text transform="translate(231.87,411.88) scale(0.89,1)" font-size="8.1" fill="#111" dominant-baseline="central">autosomes: 3,261,284</text>
<path d="M326.34,338.26 C327.56,337.86 330.31,336.40 333.67,335.88 C337.04,335.36 341.93,335.14 346.51,335.14 C351.10,335.14 356.60,335.51 361.19,335.88 C365.78,336.24 369.44,336.73 374.03,337.34 C378.62,337.95 384.73,338.93 388.70,339.54 C392.68,340.16 395.49,340.46 397.88,341.01 C400.26,341.56 402.16,342.54 403.01,342.85" fill="none" stroke="#ee8733" stroke-width="1.6" stroke-linejoin="round" stroke-dasharray="3.1 2.1"/>
<path d="M326.34,328.17 C328.17,328.23 332.45,328.39 337.34,328.54 C342.23,328.69 349.57,328.84 355.69,329.09 C361.80,329.33 367.92,329.61 374.03,330.01 C380.14,330.40 388.09,331.01 392.37,331.47 C396.65,331.93 397.88,332.08 399.71,332.76 C401.54,333.43 402.77,335.05 403.38,335.51" fill="none" stroke="#ee8733" stroke-width="1.6" stroke-linejoin="round"/>
<path d="M326.34,363.02 C326.64,361.95 327.10,358.80 328.17,356.60 C329.24,354.40 330.92,351.65 332.76,349.82 C334.59,347.98 336.58,346.76 339.18,345.60 C341.78,344.44 344.68,343.46 348.35,342.85 C352.02,342.23 356.91,341.99 361.19,341.93 C365.47,341.87 369.75,342.08 374.03,342.48 C378.31,342.88 383.81,343.79 386.87,344.31 C389.93,344.83 390.23,345.29 392.37,345.60 C394.51,345.90 397.57,346.06 399.71,346.15 C401.85,346.24 403.84,345.78 405.21,346.15 C406.59,346.51 407.51,347.98 407.96,348.35" fill="none" stroke="#1f74b0" stroke-width="1.6" stroke-linejoin="round" stroke-dasharray="3.1 2.1"/>
<path d="M326.34,331.47 C328.17,331.29 332.45,330.56 337.34,330.37 C342.23,330.19 349.57,330.28 355.69,330.37 C361.80,330.46 367.92,330.68 374.03,330.92 C380.14,331.17 388.09,331.53 392.37,331.84 C396.65,332.15 397.72,332.30 399.71,332.76 C401.70,333.22 403.13,333.58 404.30,334.59 C405.46,335.60 406.28,338.11 406.68,338.81" fill="none" stroke="#1f74b0" stroke-width="1.6" stroke-linejoin="round"/>
<path d="M358.44,336.43 C361.04,336.82 369.90,338.20 374.03,338.81 C378.16,339.42 380.91,339.42 383.20,340.09 C385.49,340.77 386.72,341.78 387.79,342.85 C388.86,343.92 389.32,345.90 389.62,346.51" fill="none" stroke="#2e9a35" stroke-width="1.6" stroke-linejoin="round" stroke-dasharray="3.1 2.1"/>
<path d="M355.69,327.80 C358.74,327.93 369.44,328.32 374.03,328.54 C378.62,328.75 381.37,328.69 383.20,329.09 C385.04,329.49 384.58,330.40 385.04,330.92 C385.49,331.44 385.80,331.99 385.95,332.21" fill="none" stroke="#2e9a35" stroke-width="1.6" stroke-linejoin="round"/>
<circle cx="402.83" cy="349.82" r="1.9" fill="#d62728"/>
<path d="M403.93,354.55 L406.33,358.75 L401.53,358.75 Z" fill="#d62728"/>
<text transform="translate(325.42,411.88) scale(0.89,1)" font-size="8.1" fill="#111" dominant-baseline="central">autosomes: 3,167,803</text>
<path d="M47.34,444.21 C48.56,443.69 51.62,441.77 54.67,441.09 C57.73,440.42 61.40,440.18 65.68,440.18 C69.96,440.18 76.07,440.64 80.36,441.09 C84.64,441.55 87.39,442.16 91.36,442.93 C95.34,443.69 100.07,444.70 104.20,445.68 C108.33,446.66 114.14,448.28 116.12,448.80" fill="none" stroke="#ee8733" stroke-width="1.6" stroke-linejoin="round" stroke-dasharray="3.1 2.1"/>
<path d="M47.34,429.17 C49.78,429.17 57.12,429.02 62.01,429.17 C66.90,429.32 71.79,429.72 76.69,430.09 C81.58,430.46 86.78,431.04 91.36,431.37 C95.95,431.71 99.92,431.80 104.20,432.11 C108.48,432.41 114.90,433.02 117.04,433.21" fill="none" stroke="#ee8733" stroke-width="1.6" stroke-linejoin="round"/>
<path d="M56.51,516.30 C57.43,515.69 58.65,514.16 62.01,512.63 C65.37,511.10 71.79,508.44 76.69,507.13 C81.58,505.82 86.78,505.45 91.36,504.75 C95.95,504.04 100.53,503.58 104.20,502.91 C107.87,502.24 110.47,501.54 113.37,500.71 C116.28,499.88 120.25,498.42 121.63,497.96" fill="none" stroke="#1f74b0" stroke-width="1.6" stroke-linejoin="round" stroke-dasharray="3.1 2.1"/>
<path d="M47.34,433.21 C48.56,432.99 51.31,432.05 54.67,431.92 C58.04,431.80 62.93,432.26 67.51,432.47 C72.10,432.69 77.60,432.99 82.19,433.21 C86.78,433.42 90.44,433.67 95.03,433.76 C99.62,433.85 106.04,433.54 109.70,433.76 C113.37,433.97 115.21,434.28 117.04,435.04 C118.88,435.81 119.55,436.94 120.71,438.34 C121.87,439.75 123.46,442.62 124.01,443.48" fill="none" stroke="#1f74b0" stroke-width="1.6" stroke-linejoin="round"/>
<path d="M61.64,435.04 C64.15,435.59 72.19,437.55 76.69,438.34 C81.18,439.14 86.22,438.59 88.61,439.81 C90.99,441.03 90.38,443.72 90.99,445.68 C91.61,447.64 92.06,450.57 92.28,451.55" fill="none" stroke="#2e9a35" stroke-width="1.6" stroke-linejoin="round" stroke-dasharray="3.1 2.1"/>
<path d="M60.54,428.62 C63.23,428.84 72.01,429.51 76.69,429.91 C81.36,430.30 86.41,430.21 88.61,431.01 C90.81,431.80 89.50,433.15 89.89,434.67 C90.29,436.20 90.81,439.26 90.99,440.18" fill="none" stroke="#2e9a35" stroke-width="1.6" stroke-linejoin="round"/>
<circle cx="119.79" cy="469.89" r="1.9" fill="#d62728"/>
<path d="M117.96,495.36 L120.36,499.56 L115.56,499.56 Z" fill="#d62728"/>
<text transform="translate(45.87,513.43) scale(0.89,1)" font-size="8.1" fill="#111" dominant-baseline="central">autosomes: 2,976,567</text>
<path d="M140.34,446.05 C141.56,445.53 144.92,443.69 147.67,442.93 C150.43,442.16 153.18,441.68 156.85,441.46 C160.51,441.25 165.10,441.40 169.69,441.64 C174.27,441.89 179.78,442.32 184.36,442.93 C188.95,443.54 193.23,444.34 197.20,445.31 C201.18,446.29 206.37,448.22 208.21,448.80" fill="none" stroke="#ee8733" stroke-width="1.6" stroke-linejoin="round" stroke-dasharray="3.1 2.1"/>
<path d="M140.34,429.17 C142.78,429.17 150.12,428.96 155.01,429.17 C159.90,429.39 164.79,430.09 169.69,430.46 C174.58,430.82 179.78,431.04 184.36,431.37 C188.95,431.71 193.23,432.17 197.20,432.47 C201.18,432.78 206.37,433.08 208.21,433.21" fill="none" stroke="#ee8733" stroke-width="1.6" stroke-linejoin="round"/>
<path d="M139.97,494.29 C140.49,492.98 141.65,488.85 143.09,486.40 C144.53,483.96 146.30,481.45 148.59,479.62 C150.88,477.78 153.94,476.41 156.85,475.40 C159.75,474.39 162.96,473.99 166.02,473.56 C169.07,473.13 172.13,472.80 175.19,472.83 C178.25,472.86 181.30,474.05 184.36,473.75 C187.42,473.44 190.48,471.94 193.53,470.99 C196.59,470.05 199.95,468.76 202.70,468.06 C205.46,467.36 208.15,466.53 210.04,466.78 C211.94,467.02 213.40,469.07 214.08,469.53" fill="none" stroke="#1f74b0" stroke-width="1.6" stroke-linejoin="round" stroke-dasharray="3.1 2.1"/>
<path d="M140.34,433.21 C142.17,433.02 146.45,432.29 151.34,432.11 C156.23,431.92 163.57,432.11 169.69,432.11 C175.80,432.11 182.53,432.05 188.03,432.11 C193.53,432.17 199.04,432.20 202.70,432.47 C206.37,432.75 208.21,433.02 210.04,433.76 C211.88,434.49 212.64,435.44 213.71,436.88 C214.78,438.31 216.00,441.46 216.46,442.38" fill="none" stroke="#1f74b0" stroke-width="1.6" stroke-linejoin="round"/>
<path d="M154.64,435.04 C157.15,435.59 165.50,437.43 169.69,438.34 C173.87,439.26 177.70,438.71 179.78,440.54 C181.85,442.38 181.55,446.66 182.16,449.35 C182.77,452.04 183.14,454.00 183.44,456.69 C183.75,459.38 183.90,464.02 183.99,465.49" fill="none" stroke="#2e9a35" stroke-width="1.6" stroke-linejoin="round" stroke-dasharray="3.1 2.1"/>
<path d="M153.54,428.62 C156.23,428.87 165.47,429.60 169.69,430.09 C173.91,430.58 177.02,430.18 178.86,431.56 C180.69,432.93 180.23,435.38 180.69,438.34 C181.15,441.31 181.30,446.44 181.61,449.35 C181.92,452.25 182.37,454.70 182.53,455.77" fill="none" stroke="#2e9a35" stroke-width="1.6" stroke-linejoin="round"/>
<circle cx="212.24" cy="464.94" r="1.9" fill="#d62728"/>
<path d="M210.59,480.68 L212.99,484.88 L208.19,484.88 Z" fill="#d62728"/>
<text transform="translate(138.87,513.43) scale(0.89,1)" font-size="8.1" fill="#111" dominant-baseline="central">autosomes: 2,834,752</text>
<path d="M233.34,437.43 C235.17,437.12 239.45,435.90 244.34,435.59 C249.23,435.29 256.57,435.29 262.69,435.59 C268.80,435.90 275.53,436.81 281.03,437.43 C286.53,438.04 291.42,438.65 295.70,439.26 C299.98,439.87 304.02,440.48 306.71,441.09 C309.40,441.71 310.99,442.62 311.85,442.93" fill="none" stroke="#ee8733" stroke-width="1.6" stroke-linejoin="round" stroke-dasharray="3.1 2.1"/>
<path d="M233.34,429.17 C235.17,429.23 239.45,429.29 244.34,429.54 C249.23,429.78 256.57,430.24 262.69,430.64 C268.80,431.04 274.92,431.50 281.03,431.92 C287.14,432.35 295.09,432.75 299.37,433.21 C303.65,433.67 304.72,433.97 306.71,434.67 C308.70,435.38 310.53,436.97 311.30,437.43" fill="none" stroke="#ee8733" stroke-width="1.6" stroke-linejoin="round"/>
<path d="M233.34,457.60 C233.80,456.47 234.87,452.96 236.09,450.82 C237.31,448.68 238.69,446.38 240.67,444.76 C242.66,443.14 244.95,442.01 248.01,441.09 C251.07,440.18 255.04,439.72 259.02,439.26 C262.99,438.80 267.58,438.34 271.86,438.34 C276.14,438.34 280.11,438.80 284.70,439.26 C289.28,439.72 295.40,440.64 299.37,441.09 C303.35,441.55 306.34,441.61 308.54,442.01 C310.75,442.41 311.91,443.23 312.58,443.48" fill="none" stroke="#1f74b0" stroke-width="1.6" stroke-linejoin="round" stroke-dasharray="3.1 2.1"/>
<path d="M233.34,432.84 C235.17,432.63 239.45,431.77 244.34,431.56 C249.23,431.34 256.57,431.46 262.69,431.56 C268.80,431.65 274.92,431.89 281.03,432.11 C287.14,432.32 294.79,432.57 299.37,432.84 C303.96,433.12 306.25,433.39 308.54,433.76 C310.84,434.12 312.00,434.43 313.13,435.04 C314.26,435.65 314.96,437.03 315.33,437.43" fill="none" stroke="#1f74b0" stroke-width="1.6" stroke-linejoin="round"/>
<path d="M272.78,437.43 C274.76,437.67 280.88,438.37 284.70,438.89 C288.52,439.41 293.26,439.96 295.70,440.54 C298.15,441.13 298.21,441.46 299.37,442.38 C300.53,443.30 302.12,445.44 302.67,446.05" fill="none" stroke="#2e9a35" stroke-width="1.6" stroke-linejoin="round" stroke-dasharray="3.1 2.1"/>
<path d="M269.66,429.17 C271.55,429.26 276.69,429.48 281.03,429.72 C285.37,429.97 292.71,430.18 295.70,430.64 C298.70,431.10 298.24,431.95 299.01,432.47 C299.77,432.99 300.08,433.54 300.29,433.76" fill="none" stroke="#2e9a35" stroke-width="1.6" stroke-linejoin="round"/>
<circle cx="311.30" cy="443.48" r="1.9" fill="#d62728"/>
<path d="M313.31,448.95 L315.71,453.15 L310.91,453.15 Z" fill="#d62728"/>
<text transform="translate(231.87,513.43) scale(0.89,1)" font-size="8.1" fill="#111" dominant-baseline="central">autosomes: 3,292,437</text>
<path d="M326.34,439.26 C327.56,438.86 330.31,437.33 333.67,436.88 C337.04,436.42 341.93,436.42 346.51,436.51 C351.10,436.60 356.60,437.06 361.19,437.43 C365.78,437.79 369.44,438.19 374.03,438.71 C378.62,439.23 384.73,439.93 388.70,440.54 C392.68,441.16 395.49,441.77 397.88,442.38 C400.26,442.99 402.16,443.91 403.01,444.21" fill="none" stroke="#ee8733" stroke-width="1.6" stroke-linejoin="round" stroke-dasharray="3.1 2.1"/>
<path d="M326.34,429.17 C328.17,429.23 332.45,429.39 337.34,429.54 C342.23,429.69 349.57,429.84 355.69,430.09 C361.80,430.33 367.92,430.61 374.03,431.01 C380.14,431.40 388.09,432.01 392.37,432.47 C396.65,432.93 397.88,433.08 399.71,433.76 C401.54,434.43 402.77,436.05 403.38,436.51" fill="none" stroke="#ee8733" stroke-width="1.6" stroke-linejoin="round"/>
<path d="M326.34,464.02 C326.64,462.95 327.10,459.80 328.17,457.60 C329.24,455.40 330.92,452.65 332.76,450.82 C334.59,448.98 336.58,447.76 339.18,446.60 C341.78,445.44 344.68,444.46 348.35,443.85 C352.02,443.23 356.91,442.99 361.19,442.93 C365.47,442.87 369.75,443.08 374.03,443.48 C378.31,443.88 383.81,444.79 386.87,445.31 C389.93,445.83 390.23,446.38 392.37,446.60 C394.51,446.81 397.57,446.51 399.71,446.60 C401.85,446.69 403.84,446.69 405.21,447.15 C406.59,447.61 407.51,448.98 407.96,449.35" fill="none" stroke="#1f74b0" stroke-width="1.6" stroke-linejoin="round" stroke-dasharray="3.1 2.1"/>
<path d="M326.34,432.47 C328.17,432.29 332.45,431.56 337.34,431.37 C342.23,431.19 349.57,431.28 355.69,431.37 C361.80,431.46 367.92,431.68 374.03,431.92 C380.14,432.17 388.09,432.53 392.37,432.84 C396.65,433.15 397.72,433.30 399.71,433.76 C401.70,434.22 403.13,434.58 404.30,435.59 C405.46,436.60 406.28,439.11 406.68,439.81" fill="none" stroke="#1f74b0" stroke-width="1.6" stroke-linejoin="round"/>
<path d="M358.44,437.79 C361.04,438.19 369.90,439.54 374.03,440.18 C378.16,440.82 380.91,440.88 383.20,441.64 C385.49,442.41 386.63,443.63 387.79,444.76 C388.95,445.89 389.77,447.82 390.17,448.43" fill="none" stroke="#2e9a35" stroke-width="1.6" stroke-linejoin="round" stroke-dasharray="3.1 2.1"/>
<path d="M355.32,428.80 C358.44,428.93 369.32,429.32 374.03,429.54 C378.74,429.75 381.73,429.69 383.57,430.09 C385.40,430.49 384.64,431.31 385.04,431.92 C385.43,432.53 385.80,433.45 385.95,433.76" fill="none" stroke="#2e9a35" stroke-width="1.6" stroke-linejoin="round"/>
<circle cx="402.83" cy="451.18" r="1.9" fill="#d62728"/>
<path d="M403.93,455.92 L406.33,460.12 L401.53,460.12 Z" fill="#d62728"/>
<text transform="translate(325.42,513.43) scale(0.89,1)" font-size="8.1" fill="#111" dominant-baseline="central">autosomes: 3,195,645</text>
<path d="M468.17,69.10 C469.23,68.70 471.34,66.95 474.52,66.74 C477.70,66.52 482.99,67.52 487.22,67.83 C491.46,68.13 496.00,68.19 499.93,68.55 C503.86,68.91 507.49,69.31 510.82,70.00 C514.15,70.70 516.87,71.97 519.89,72.73 C522.92,73.48 526.25,73.94 528.97,74.54 C531.69,75.15 535.02,76.05 536.23,76.36" fill="none" stroke="#ee8733" stroke-width="1.6" stroke-linejoin="round" stroke-dasharray="3.1 2.1"/>
<path d="M468.17,47.32 C469.23,47.86 471.34,49.52 474.52,50.58 C477.70,51.64 482.08,52.70 487.22,53.67 C492.37,54.64 499.32,55.64 505.37,56.39 C511.42,57.15 518.99,57.69 523.52,58.21 C528.06,58.72 531.09,59.27 532.60,59.48" fill="none" stroke="#ee8733" stroke-width="1.6" stroke-linejoin="round"/>
<path d="M468.17,100.86 C468.62,99.95 469.53,97.38 470.89,95.41 C472.25,93.45 474.22,90.72 476.33,89.06 C478.45,87.40 480.87,86.49 483.59,85.43 C486.32,84.37 489.04,83.92 492.67,82.71 C496.30,81.50 501.74,79.38 505.37,78.17 C509.00,76.96 511.42,76.05 514.45,75.45 C517.47,74.84 520.50,74.54 523.52,74.54 C526.55,74.54 529.88,74.75 532.60,75.45 C535.32,76.14 538.65,78.17 539.86,78.72" fill="none" stroke="#1f74b0" stroke-width="1.6" stroke-linejoin="round" stroke-dasharray="3.1 2.1"/>
<path d="M468.17,53.31 C469.23,53.52 471.34,54.06 474.52,54.58 C477.70,55.09 483.59,56.18 487.22,56.39 C490.85,56.60 493.27,55.91 496.30,55.85 C499.32,55.79 502.35,55.94 505.37,56.03 C508.40,56.12 510.52,56.03 514.45,56.39 C518.38,56.75 525.34,57.60 528.97,58.21 C532.60,58.81 534.41,59.27 536.23,60.02 C538.04,60.78 538.50,61.84 539.86,62.74 C541.22,63.65 543.64,65.01 544.40,65.47" fill="none" stroke="#1f74b0" stroke-width="1.6" stroke-linejoin="round"/>
<path d="M481.42,59.11 C483.29,60.02 488.98,62.99 492.67,64.56 C496.36,66.13 500.53,67.34 503.56,68.55 C506.58,69.76 508.94,70.52 510.82,71.82 C512.69,73.12 514.15,75.60 514.81,76.36" fill="none" stroke="#2e9a35" stroke-width="1.6" stroke-linejoin="round" stroke-dasharray="3.1 2.1"/>
<path d="M479.60,50.40 C481.48,50.95 487.16,52.88 490.85,53.67 C494.54,54.46 498.57,54.67 501.74,55.12 C504.92,55.57 508.25,55.88 509.91,56.39 C511.57,56.91 511.27,57.39 511.73,58.21 C512.18,59.02 512.48,60.78 512.63,61.29" fill="none" stroke="#2e9a35" stroke-width="1.6" stroke-linejoin="round"/>
<circle cx="533.87" cy="79.99" r="1.9" fill="#d62728"/>
<path d="M530.42,86.46 L532.82,90.66 L528.02,90.66 Z" fill="#d62728"/>
<text transform="translate(467.62,113.26) scale(0.89,1)" font-size="8.1" fill="#111" dominant-baseline="central">autosomes: 444,313</text>
<path d="M570.17,69.10 C571.23,68.49 573.95,66.13 576.52,65.47 C579.09,64.80 581.96,64.95 585.59,65.10 C589.22,65.25 593.76,65.92 598.30,66.37 C602.84,66.83 608.58,67.28 612.82,67.83 C617.05,68.37 620.08,68.98 623.71,69.64 C627.34,70.31 631.57,71.00 634.60,71.82 C637.62,72.64 640.65,74.09 641.86,74.54" fill="none" stroke="#ee8733" stroke-width="1.6" stroke-linejoin="round" stroke-dasharray="3.1 2.1"/>
<path d="M570.17,47.86 C571.23,48.38 573.34,50.04 576.52,50.95 C579.70,51.85 584.08,52.49 589.22,53.31 C594.37,54.12 601.93,55.18 607.37,55.85 C612.82,56.51 616.75,56.60 621.89,57.30 C627.04,57.99 635.51,59.57 638.23,60.02" fill="none" stroke="#ee8733" stroke-width="1.6" stroke-linejoin="round"/>
<path d="M570.17,97.23 C570.62,96.32 571.53,93.75 572.89,91.78 C574.25,89.82 576.22,87.09 578.33,85.43 C580.45,83.77 582.87,82.80 585.59,81.80 C588.32,80.80 591.04,80.05 594.67,79.44 C598.30,78.84 603.74,78.53 607.37,78.17 C611.00,77.81 613.42,77.66 616.45,77.26 C619.47,76.87 622.50,76.27 625.52,75.81 C628.55,75.36 631.88,74.66 634.60,74.54 C637.32,74.42 639.50,74.69 641.86,75.09 C644.22,75.48 647.60,76.60 648.75,76.90" fill="none" stroke="#1f74b0" stroke-width="1.6" stroke-linejoin="round" stroke-dasharray="3.1 2.1"/>
<path d="M570.17,55.12 C571.83,55.24 576.67,55.48 580.15,55.85 C583.63,56.21 586.50,56.75 591.04,57.30 C595.58,57.84 603.14,58.96 607.37,59.11 C611.61,59.27 612.52,58.21 616.45,58.21 C620.38,58.21 627.04,58.66 630.97,59.11 C634.90,59.57 637.47,60.17 640.04,60.93 C642.61,61.69 644.88,62.90 646.40,63.65 C647.91,64.41 648.66,65.16 649.12,65.47" fill="none" stroke="#1f74b0" stroke-width="1.6" stroke-linejoin="round"/>
<path d="M593.76,60.02 C595.43,60.72 600.57,62.90 603.74,64.20 C606.92,65.50 609.49,66.92 612.82,67.83 C616.15,68.73 620.99,68.61 623.71,69.64 C626.43,70.67 628.25,73.27 629.15,74.00" fill="none" stroke="#2e9a35" stroke-width="1.6" stroke-linejoin="round" stroke-dasharray="3.1 2.1"/>
<path d="M591.04,53.31 C593.76,53.73 602.53,55.18 607.37,55.85 C612.21,56.51 617.20,56.81 620.08,57.30 C622.95,57.78 623.65,57.99 624.62,58.75 C625.58,59.51 625.67,61.32 625.89,61.84" fill="none" stroke="#2e9a35" stroke-width="1.6" stroke-linejoin="round"/>
<circle cx="643.13" cy="76.36" r="1.9" fill="#d62728"/>
<path d="M643.13,82.29 L645.53,86.49 L640.73,86.49 Z" fill="#d62728"/>
<text transform="translate(568.90,113.26) scale(0.89,1)" font-size="8.1" fill="#111" dominant-baseline="central">autosomes: 490,003</text>
<path d="M468.17,144.96 C469.23,144.44 471.95,142.08 474.52,141.87 C477.09,141.66 479.96,143.23 483.59,143.69 C487.22,144.14 491.76,144.20 496.30,144.59 C500.84,144.99 506.89,145.50 510.82,146.05 C514.75,146.59 517.02,146.95 519.89,147.86 C522.77,148.77 526.70,150.89 528.06,151.49" fill="none" stroke="#ee8733" stroke-width="1.6" stroke-linejoin="round" stroke-dasharray="3.1 2.1"/>
<path d="M468.17,129.17 C469.83,129.26 473.46,129.41 478.15,129.71 C482.84,130.01 490.25,130.47 496.30,130.98 C502.35,131.50 509.31,132.28 514.45,132.80 C519.59,133.31 525.04,133.86 527.15,134.07" fill="none" stroke="#ee8733" stroke-width="1.6" stroke-linejoin="round"/>
<path d="M468.17,179.99 C468.62,179.08 469.53,176.51 470.89,174.54 C472.25,172.57 474.22,169.70 476.33,168.19 C478.45,166.68 480.87,166.68 483.59,165.47 C486.32,164.26 489.04,162.74 492.67,160.93 C496.30,159.11 501.74,156.03 505.37,154.58 C509.00,153.12 511.73,152.52 514.45,152.22 C517.17,151.91 519.29,152.46 521.71,152.76 C524.13,153.06 527.00,153.52 528.97,154.03 C530.93,154.55 532.75,155.54 533.51,155.85" fill="none" stroke="#1f74b0" stroke-width="1.6" stroke-linejoin="round" stroke-dasharray="3.1 2.1"/>
<path d="M468.17,132.80 C469.83,132.65 473.46,132.13 478.15,131.89 C482.84,131.65 490.25,131.35 496.30,131.35 C502.35,131.35 509.31,131.56 514.45,131.89 C519.59,132.22 524.13,132.74 527.15,133.34 C530.18,133.95 531.09,134.55 532.60,135.52 C534.11,136.49 535.17,137.64 536.23,139.15 C537.29,140.66 538.04,143.63 538.95,144.59 C539.86,145.56 541.22,144.90 541.67,144.96" fill="none" stroke="#1f74b0" stroke-width="1.6" stroke-linejoin="round"/>
<path d="M476.33,139.51 C477.54,140.21 481.17,142.23 483.59,143.69 C486.01,145.14 488.43,147.17 490.85,148.22 C493.27,149.28 496.00,149.28 498.11,150.04 C500.23,150.80 502.05,151.25 503.56,152.76 C505.07,154.27 506.58,158.06 507.19,159.11" fill="none" stroke="#2e9a35" stroke-width="1.6" stroke-linejoin="round" stroke-dasharray="3.1 2.1"/>
<path d="M474.52,129.17 C476.64,129.38 482.69,130.04 487.22,130.44 C491.76,130.83 499.02,130.98 501.74,131.53 C504.47,132.07 503.10,132.74 503.56,133.70 C504.01,134.67 504.31,136.73 504.47,137.33" fill="none" stroke="#2e9a35" stroke-width="1.6" stroke-linejoin="round"/>
<circle cx="533.87" cy="168.73" r="1.9" fill="#d62728"/>
<path d="M525.70,166.50 L528.10,170.70 L523.30,170.70 Z" fill="#d62728"/>
<text transform="translate(467.62,213.26) scale(0.89,1)" font-size="8.1" fill="#111" dominant-baseline="central">autosomes: 2,114,716</text>
<path d="M570.17,142.78 C571.23,142.23 573.95,140.21 576.52,139.51 C579.09,138.82 581.96,138.67 585.59,138.60 C589.22,138.54 593.76,138.82 598.30,139.15 C602.84,139.48 608.28,140.00 612.82,140.60 C617.36,141.21 621.89,142.05 625.52,142.78 C629.15,143.51 632.24,144.20 634.60,144.96 C636.96,145.71 638.83,146.92 639.68,147.32" fill="none" stroke="#ee8733" stroke-width="1.6" stroke-linejoin="round" stroke-dasharray="3.1 2.1"/>
<path d="M570.17,129.71 C572.44,129.71 579.09,129.59 583.78,129.71 C588.47,129.83 592.85,130.14 598.30,130.44 C603.74,130.74 611.00,131.22 616.45,131.53 C621.89,131.83 627.04,131.95 630.97,132.25 C634.90,132.56 638.53,133.16 640.04,133.34" fill="none" stroke="#ee8733" stroke-width="1.6" stroke-linejoin="round"/>
<path d="M570.17,179.99 C570.62,178.93 571.53,175.60 572.89,173.63 C574.25,171.67 576.22,169.55 578.33,168.19 C580.45,166.83 582.87,166.31 585.59,165.47 C588.32,164.62 591.04,164.01 594.67,163.11 C598.30,162.20 603.74,161.14 607.37,160.02 C611.00,158.90 613.42,157.39 616.45,156.39 C619.47,155.39 622.50,154.49 625.52,154.03 C628.55,153.58 632.18,153.73 634.60,153.67 C637.02,153.61 638.38,153.37 640.04,153.67 C641.71,153.97 643.82,155.18 644.58,155.48" fill="none" stroke="#1f74b0" stroke-width="1.6" stroke-linejoin="round" stroke-dasharray="3.1 2.1"/>
<path d="M570.17,133.70 C571.83,133.55 575.46,133.04 580.15,132.80 C584.84,132.56 592.25,132.34 598.30,132.25 C604.35,132.16 611.00,132.25 616.45,132.25 C621.89,132.25 627.34,132.16 630.97,132.25 C634.60,132.34 636.41,132.25 638.23,132.80 C640.04,133.34 640.59,134.31 641.86,135.52 C643.13,136.73 645.19,139.30 645.85,140.06" fill="none" stroke="#1f74b0" stroke-width="1.6" stroke-linejoin="round"/>
<path d="M586.50,138.24 C587.56,138.70 589.98,139.91 592.85,140.96 C595.73,142.02 600.11,143.44 603.74,144.59 C607.37,145.74 612.06,146.95 614.63,147.86 C617.20,148.77 618.26,148.92 619.17,150.04 C620.08,151.16 619.93,153.82 620.08,154.58" fill="none" stroke="#2e9a35" stroke-width="1.6" stroke-linejoin="round" stroke-dasharray="3.1 2.1"/>
<path d="M583.78,129.17 C586.20,129.38 593.16,130.04 598.30,130.44 C603.44,130.83 611.61,130.98 614.63,131.53 C617.66,132.07 615.99,132.89 616.45,133.70 C616.90,134.52 617.20,135.97 617.36,136.43" fill="none" stroke="#2e9a35" stroke-width="1.6" stroke-linejoin="round"/>
<circle cx="640.95" cy="155.85" r="1.9" fill="#d62728"/>
<path d="M638.23,159.78 L640.63,163.98 L635.83,163.98 Z" fill="#d62728"/>
<text transform="translate(568.90,213.26) scale(0.89,1)" font-size="8.1" fill="#111" dominant-baseline="central">autosomes: 2,475,987</text>
<path d="M468.17,250.04 C468.92,249.80 470.44,248.53 472.70,248.59 C474.97,248.65 477.85,249.62 481.78,250.40 C485.71,251.19 491.46,252.61 496.30,253.31 C501.14,254.00 506.58,254.06 510.82,254.58 C515.05,255.09 518.38,255.39 521.71,256.39 C525.04,257.39 529.27,259.87 530.78,260.57" fill="none" stroke="#ee8733" stroke-width="1.6" stroke-linejoin="round" stroke-dasharray="3.1 2.1"/>
<path d="M468.17,234.61 C469.83,235.01 474.97,235.85 478.15,236.97 C481.33,238.09 482.69,240.42 487.22,241.33 C491.76,242.23 500.23,242.02 505.37,242.42 C510.52,242.81 514.15,243.26 518.08,243.69 C522.01,244.11 527.15,244.75 528.97,244.96" fill="none" stroke="#ee8733" stroke-width="1.6" stroke-linejoin="round"/>
<path d="M468.17,284.89 C468.62,283.92 469.53,281.10 470.89,279.08 C472.25,277.05 473.91,274.39 476.33,272.73 C478.75,271.06 482.08,270.46 485.41,269.10 C488.74,267.73 492.97,265.92 496.30,264.56 C499.63,263.20 502.35,261.78 505.37,260.93 C508.40,260.08 511.42,259.54 514.45,259.48 C517.47,259.42 520.80,260.02 523.52,260.57 C526.25,261.11 528.91,262.08 530.78,262.74 C532.66,263.41 534.11,264.26 534.78,264.56" fill="none" stroke="#1f74b0" stroke-width="1.6" stroke-linejoin="round" stroke-dasharray="3.1 2.1"/>
<path d="M468.17,238.24 C469.83,238.39 473.46,239.06 478.15,239.15 C482.84,239.24 490.25,238.73 496.30,238.79 C502.35,238.85 509.31,239.09 514.45,239.51 C519.59,239.94 523.83,240.48 527.15,241.33 C530.48,242.17 532.60,243.14 534.41,244.59 C536.23,246.05 537.14,248.38 538.04,250.04 C538.95,251.70 539.10,253.73 539.86,254.58 C540.61,255.42 542.13,255.03 542.58,255.12" fill="none" stroke="#1f74b0" stroke-width="1.6" stroke-linejoin="round"/>
<path d="M477.24,244.96 C478.60,245.96 482.54,249.19 485.41,250.95 C488.28,252.70 491.46,254.27 494.48,255.48 C497.51,256.69 501.44,257.30 503.56,258.21 C505.68,259.11 506.28,259.72 507.19,260.93 C508.10,262.14 508.70,264.71 509.00,265.47" fill="none" stroke="#2e9a35" stroke-width="1.6" stroke-linejoin="round" stroke-dasharray="3.1 2.1"/>
<path d="M475.43,234.61 C476.79,235.13 480.12,236.94 483.59,237.70 C487.07,238.45 492.97,238.60 496.30,239.15 C499.63,239.69 502.05,240.21 503.56,240.96 C505.07,241.72 504.92,242.72 505.37,243.69 C505.83,244.65 506.13,246.26 506.28,246.77" fill="none" stroke="#2e9a35" stroke-width="1.6" stroke-linejoin="round"/>
<circle cx="534.05" cy="275.81" r="1.9" fill="#d62728"/>
<path d="M526.61,273.76 L529.01,277.96 L524.21,277.96 Z" fill="#d62728"/>
<text transform="translate(467.62,313.26) scale(0.89,1)" font-size="8.1" fill="#111" dominant-baseline="central">autosomes: 1,822,899</text>
<path d="M569.26,249.13 C570.47,248.74 573.80,247.17 576.52,246.77 C579.24,246.38 581.96,246.53 585.59,246.77 C589.22,247.01 593.76,247.68 598.30,248.22 C602.84,248.77 608.28,249.43 612.82,250.04 C617.36,250.64 621.89,251.19 625.52,251.85 C629.15,252.52 632.03,253.12 634.60,254.03 C637.17,254.94 639.89,256.75 640.95,257.30" fill="none" stroke="#ee8733" stroke-width="1.6" stroke-linejoin="round" stroke-dasharray="3.1 2.1"/>
<path d="M570.17,235.16 C571.83,235.52 575.46,236.52 580.15,237.33 C584.84,238.15 592.25,239.21 598.30,240.06 C604.35,240.90 611.00,241.81 616.45,242.42 C621.89,243.02 626.73,243.17 630.97,243.69 C635.20,244.20 640.04,245.20 641.86,245.50" fill="none" stroke="#ee8733" stroke-width="1.6" stroke-linejoin="round"/>
<path d="M570.17,284.52 C570.62,283.56 571.53,280.53 572.89,278.72 C574.25,276.90 576.22,274.84 578.33,273.63 C580.45,272.42 582.27,272.12 585.59,271.46 C588.92,270.79 594.67,270.34 598.30,269.64 C601.93,268.94 604.35,268.13 607.37,267.28 C610.40,266.43 613.42,265.38 616.45,264.56 C619.47,263.74 622.50,262.83 625.52,262.38 C628.55,261.93 631.88,261.72 634.60,261.84 C637.32,261.96 639.98,262.59 641.86,263.11 C643.73,263.62 645.19,264.62 645.85,264.92" fill="none" stroke="#1f74b0" stroke-width="1.6" stroke-linejoin="round" stroke-dasharray="3.1 2.1"/>
<path d="M570.17,238.79 C571.83,238.85 575.46,238.85 580.15,239.15 C584.84,239.45 592.25,240.24 598.30,240.60 C604.35,240.96 611.00,241.02 616.45,241.33 C621.89,241.63 627.34,242.02 630.97,242.42 C634.60,242.81 636.26,242.87 638.23,243.69 C640.19,244.50 641.56,246.11 642.77,247.32 C643.98,248.53 644.73,250.25 645.49,250.95 C646.24,251.64 647.00,251.40 647.30,251.49" fill="none" stroke="#1f74b0" stroke-width="1.6" stroke-linejoin="round"/>
<path d="M587.41,244.59 C588.62,245.14 592.55,246.65 594.67,247.86 C596.79,249.07 597.69,250.95 600.11,251.85 C602.53,252.76 606.47,252.64 609.19,253.31 C611.91,253.97 614.57,255.03 616.45,255.85 C618.32,256.66 619.47,257.21 620.44,258.21 C621.41,259.20 621.95,261.23 622.26,261.84" fill="none" stroke="#2e9a35" stroke-width="1.6" stroke-linejoin="round" stroke-dasharray="3.1 2.1"/>
<path d="M584.69,236.97 C586.96,237.33 593.61,238.54 598.30,239.15 C602.99,239.75 609.49,240.06 612.82,240.60 C616.15,241.15 617.11,241.45 618.26,242.42 C619.41,243.38 619.47,245.74 619.72,246.41" fill="none" stroke="#2e9a35" stroke-width="1.6" stroke-linejoin="round"/>
<circle cx="641.31" cy="266.01" r="1.9" fill="#d62728"/>
<path d="M639.68,267.77 L642.08,271.97 L637.28,271.97 Z" fill="#d62728"/>
<text transform="translate(568.90,313.26) scale(0.89,1)" font-size="8.1" fill="#111" dominant-baseline="central">autosomes: 2,103,757</text>
<path d="M468.17,349.04 C468.92,348.80 470.44,347.53 472.70,347.59 C474.97,347.65 477.85,348.62 481.78,349.40 C485.71,350.19 491.46,351.61 496.30,352.31 C501.14,353.00 506.58,353.06 510.82,353.58 C515.05,354.09 518.38,354.33 521.71,355.39 C525.04,356.45 529.27,359.17 530.78,359.93" fill="none" stroke="#ee8733" stroke-width="1.6" stroke-linejoin="round" stroke-dasharray="3.1 2.1"/>
<path d="M468.17,334.16 C469.83,334.52 474.97,335.31 478.15,336.33 C481.33,337.36 482.69,339.42 487.22,340.33 C491.76,341.23 500.23,341.33 505.37,341.78 C510.52,342.23 514.15,342.66 518.08,343.05 C522.01,343.44 527.15,343.96 528.97,344.14" fill="none" stroke="#ee8733" stroke-width="1.6" stroke-linejoin="round"/>
<path d="M468.17,384.43 C468.62,383.37 469.53,380.26 470.89,378.08 C472.25,375.90 473.91,373.03 476.33,371.36 C478.75,369.70 482.08,369.40 485.41,368.10 C488.74,366.80 492.97,364.86 496.30,363.56 C499.63,362.26 502.35,361.11 505.37,360.29 C508.40,359.48 511.42,358.72 514.45,358.66 C517.47,358.60 520.80,359.41 523.52,359.93 C526.25,360.44 528.91,361.14 530.78,361.74 C532.66,362.35 534.11,363.26 534.78,363.56" fill="none" stroke="#1f74b0" stroke-width="1.6" stroke-linejoin="round" stroke-dasharray="3.1 2.1"/>
<path d="M468.17,337.24 C469.83,337.39 473.46,338.06 478.15,338.15 C482.84,338.24 490.25,337.73 496.30,337.79 C502.35,337.85 509.31,338.09 514.45,338.51 C519.59,338.94 523.83,339.42 527.15,340.33 C530.48,341.23 532.60,342.51 534.41,343.96 C536.23,345.41 537.14,347.44 538.04,349.04 C538.95,350.64 539.10,352.73 539.86,353.58 C540.61,354.42 542.13,354.03 542.58,354.12" fill="none" stroke="#1f74b0" stroke-width="1.6" stroke-linejoin="round"/>
<path d="M477.24,343.96 C478.60,344.96 482.54,348.13 485.41,349.95 C488.28,351.76 491.46,353.64 494.48,354.85 C497.51,356.06 501.44,356.30 503.56,357.21 C505.68,358.11 506.28,358.99 507.19,360.29 C508.10,361.59 508.70,364.22 509.00,365.01" fill="none" stroke="#2e9a35" stroke-width="1.6" stroke-linejoin="round" stroke-dasharray="3.1 2.1"/>
<path d="M475.43,333.61 C476.79,334.13 480.12,336.00 483.59,336.70 C487.07,337.39 492.97,337.30 496.30,337.79 C499.63,338.27 501.99,338.78 503.56,339.60 C505.13,340.42 505.19,341.57 505.74,342.69 C506.28,343.81 506.64,345.71 506.83,346.32" fill="none" stroke="#2e9a35" stroke-width="1.6" stroke-linejoin="round"/>
<circle cx="534.05" cy="375.36" r="1.9" fill="#d62728"/>
<path d="M526.61,372.76 L529.01,376.96 L524.21,376.96 Z" fill="#d62728"/>
<text transform="translate(467.62,412.81) scale(0.89,1)" font-size="8.1" fill="#111" dominant-baseline="central">autosomes: 1,842,522</text>
<path d="M569.26,348.68 C570.47,348.19 573.80,346.17 576.52,345.77 C579.24,345.38 581.96,345.92 585.59,346.32 C589.22,346.71 593.76,347.53 598.30,348.13 C602.84,348.74 608.28,349.34 612.82,349.95 C617.36,350.55 621.89,351.16 625.52,351.76 C629.15,352.37 632.24,352.88 634.60,353.58 C636.96,354.27 638.83,355.54 639.68,355.94" fill="none" stroke="#ee8733" stroke-width="1.6" stroke-linejoin="round" stroke-dasharray="3.1 2.1"/>
<path d="M570.17,334.52 C571.83,334.88 575.46,335.94 580.15,336.70 C584.84,337.45 592.25,338.27 598.30,339.06 C604.35,339.84 611.00,340.81 616.45,341.42 C621.89,342.02 626.73,342.17 630.97,342.69 C635.20,343.20 640.04,344.20 641.86,344.50" fill="none" stroke="#ee8733" stroke-width="1.6" stroke-linejoin="round"/>
<path d="M570.17,383.89 C570.62,382.92 571.53,379.89 572.89,378.08 C574.25,376.26 576.22,374.21 578.33,373.00 C580.45,371.79 582.27,371.54 585.59,370.82 C588.92,370.09 594.67,369.40 598.30,368.64 C601.93,367.88 604.35,367.07 607.37,366.28 C610.40,365.49 613.42,364.68 616.45,363.92 C619.47,363.17 622.50,362.26 625.52,361.74 C628.55,361.23 631.88,360.78 634.60,360.84 C637.32,360.90 639.98,361.59 641.86,362.11 C643.73,362.62 645.19,363.62 645.85,363.92" fill="none" stroke="#1f74b0" stroke-width="1.6" stroke-linejoin="round" stroke-dasharray="3.1 2.1"/>
<path d="M570.17,338.15 C571.83,338.21 575.46,338.27 580.15,338.51 C584.84,338.75 592.25,339.30 598.30,339.60 C604.35,339.90 611.00,339.96 616.45,340.33 C621.89,340.69 627.34,341.30 630.97,341.78 C634.60,342.26 636.26,342.48 638.23,343.23 C640.19,343.99 641.56,345.20 642.77,346.32 C643.98,347.44 644.67,349.25 645.49,349.95 C646.30,350.64 647.30,350.40 647.67,350.49" fill="none" stroke="#1f74b0" stroke-width="1.6" stroke-linejoin="round"/>
<path d="M587.41,343.96 C588.62,344.50 592.55,346.07 594.67,347.22 C596.79,348.37 597.69,349.95 600.11,350.85 C602.53,351.76 606.47,352.00 609.19,352.67 C611.91,353.33 614.57,353.94 616.45,354.85 C618.32,355.75 619.38,357.02 620.44,358.11 C621.50,359.20 622.41,360.84 622.80,361.38" fill="none" stroke="#2e9a35" stroke-width="1.6" stroke-linejoin="round" stroke-dasharray="3.1 2.1"/>
<path d="M584.69,335.97 C586.96,336.33 593.61,337.54 598.30,338.15 C602.99,338.75 609.49,339.00 612.82,339.60 C616.15,340.21 617.11,340.81 618.26,341.78 C619.41,342.75 619.47,344.80 619.72,345.41" fill="none" stroke="#2e9a35" stroke-width="1.6" stroke-linejoin="round"/>
<circle cx="641.31" cy="365.01" r="1.9" fill="#d62728"/>
<path d="M639.68,367.31 L642.08,371.51 L637.28,371.51 Z" fill="#d62728"/>
<text transform="translate(568.90,412.81) scale(0.89,1)" font-size="8.1" fill="#111" dominant-baseline="central">autosomes: 2,127,068</text>
<path d="M468.17,445.41 C469.07,444.86 471.04,442.44 473.61,442.14 C476.18,441.84 479.81,443.11 483.59,443.59 C487.38,444.08 491.76,444.59 496.30,445.05 C500.84,445.50 506.58,445.71 510.82,446.32 C515.05,446.92 518.68,447.68 521.71,448.68 C524.73,449.67 527.76,451.70 528.97,452.31" fill="none" stroke="#ee8733" stroke-width="1.6" stroke-linejoin="round" stroke-dasharray="3.1 2.1"/>
<path d="M468.17,428.71 C469.83,428.77 473.46,428.71 478.15,429.07 C482.84,429.44 490.25,430.35 496.30,430.89 C502.35,431.43 509.31,431.89 514.45,432.34 C519.59,432.80 525.04,433.40 527.15,433.61" fill="none" stroke="#ee8733" stroke-width="1.6" stroke-linejoin="round"/>
<path d="M468.17,481.71 C468.62,480.65 469.53,477.47 470.89,475.36 C472.25,473.24 474.22,470.82 476.33,469.00 C478.45,467.19 480.87,465.92 483.59,464.47 C486.32,463.01 489.04,461.90 492.67,460.29 C496.30,458.69 501.74,456.18 505.37,454.85 C509.00,453.52 511.73,452.73 514.45,452.31 C517.17,451.88 519.29,452.09 521.71,452.31 C524.13,452.52 526.79,452.76 528.97,453.58 C531.15,454.39 533.81,456.60 534.78,457.21" fill="none" stroke="#1f74b0" stroke-width="1.6" stroke-linejoin="round" stroke-dasharray="3.1 2.1"/>
<path d="M468.17,432.34 C469.83,432.16 473.46,431.56 478.15,431.25 C482.84,430.95 490.25,430.59 496.30,430.53 C502.35,430.47 509.31,430.59 514.45,430.89 C519.59,431.19 524.13,431.74 527.15,432.34 C530.18,432.95 531.09,433.55 532.60,434.52 C534.11,435.49 535.17,436.58 536.23,438.15 C537.29,439.72 537.89,442.90 538.95,443.96 C540.01,445.02 541.98,444.41 542.58,444.50" fill="none" stroke="#1f74b0" stroke-width="1.6" stroke-linejoin="round"/>
<path d="M476.70,439.06 C477.85,439.75 481.23,441.81 483.59,443.23 C485.95,444.65 488.13,446.47 490.85,447.59 C493.58,448.71 497.66,449.04 499.93,449.95 C502.20,450.85 503.20,451.37 504.47,453.03 C505.74,454.70 507.04,458.78 507.55,459.93" fill="none" stroke="#2e9a35" stroke-width="1.6" stroke-linejoin="round" stroke-dasharray="3.1 2.1"/>
<path d="M474.52,428.71 C476.64,428.92 482.69,429.56 487.22,429.98 C491.76,430.41 498.96,430.65 501.74,431.25 C504.53,431.86 503.38,432.70 503.92,433.61 C504.47,434.52 504.83,436.18 505.01,436.70" fill="none" stroke="#2e9a35" stroke-width="1.6" stroke-linejoin="round"/>
<circle cx="534.78" cy="468.64" r="1.9" fill="#d62728"/>
<path d="M526.61,466.40 L529.01,470.60 L524.21,470.60 Z" fill="#d62728"/>
<text transform="translate(467.62,512.26) scale(0.89,1)" font-size="8.1" fill="#111" dominant-baseline="central">autosomes: 2,101,739</text>
<path d="M570.17,443.23 C571.23,442.63 573.95,440.39 576.52,439.60 C579.09,438.81 581.96,438.51 585.59,438.51 C589.22,438.51 593.76,439.21 598.30,439.60 C602.84,439.99 608.28,440.36 612.82,440.87 C617.36,441.39 621.89,442.08 625.52,442.69 C629.15,443.29 632.18,443.75 634.60,444.50 C637.02,445.26 639.14,446.77 640.04,447.22" fill="none" stroke="#ee8733" stroke-width="1.6" stroke-linejoin="round" stroke-dasharray="3.1 2.1"/>
<path d="M570.17,429.44 C572.44,429.38 579.09,428.98 583.78,429.07 C588.47,429.17 592.85,429.68 598.30,429.98 C603.74,430.28 611.00,430.59 616.45,430.89 C621.89,431.19 626.88,431.43 630.97,431.80 C635.05,432.16 639.29,432.86 640.95,433.07" fill="none" stroke="#ee8733" stroke-width="1.6" stroke-linejoin="round"/>
<path d="M570.17,480.80 C570.62,479.74 571.53,476.41 572.89,474.45 C574.25,472.48 576.22,470.46 578.33,469.00 C580.45,467.55 582.87,466.70 585.59,465.74 C588.32,464.77 591.04,464.22 594.67,463.20 C598.30,462.17 603.74,460.65 607.37,459.57 C611.00,458.48 613.42,457.51 616.45,456.66 C619.47,455.81 622.50,455.00 625.52,454.48 C628.55,453.97 632.18,453.64 634.60,453.58 C637.02,453.52 638.29,453.73 640.04,454.12 C641.80,454.51 644.28,455.63 645.12,455.94" fill="none" stroke="#1f74b0" stroke-width="1.6" stroke-linejoin="round" stroke-dasharray="3.1 2.1"/>
<path d="M570.17,433.61 C571.83,433.40 575.46,432.61 580.15,432.34 C584.84,432.07 592.25,432.07 598.30,431.98 C604.35,431.89 611.00,431.83 616.45,431.80 C621.89,431.77 627.34,431.65 630.97,431.80 C634.60,431.95 636.26,432.10 638.23,432.70 C640.19,433.31 641.31,434.28 642.77,435.43 C644.22,436.58 646.24,438.91 646.94,439.60" fill="none" stroke="#1f74b0" stroke-width="1.6" stroke-linejoin="round"/>
<path d="M586.50,437.79 C587.56,438.30 589.98,439.75 592.85,440.87 C595.73,441.99 600.11,443.38 603.74,444.50 C607.37,445.62 611.97,446.53 614.63,447.59 C617.30,448.65 618.66,449.70 619.72,450.85 C620.77,452.00 620.77,453.88 620.99,454.48" fill="none" stroke="#2e9a35" stroke-width="1.6" stroke-linejoin="round" stroke-dasharray="3.1 2.1"/>
<path d="M583.78,428.71 C586.20,428.83 593.01,429.14 598.30,429.44 C603.59,429.74 612.36,429.92 615.54,430.53 C618.72,431.13 616.90,432.16 617.36,433.07 C617.81,433.98 618.11,435.49 618.26,435.97" fill="none" stroke="#2e9a35" stroke-width="1.6" stroke-linejoin="round"/>
<circle cx="642.22" cy="456.30" r="1.9" fill="#d62728"/>
<path d="M639.32,460.05 L641.72,464.25 L636.92,464.25 Z" fill="#d62728"/>
<text transform="translate(568.90,512.26) scale(0.89,1)" font-size="8.1" fill="#111" dominant-baseline="central">autosomes: 2,461,341</text>
</svg></body></html>
